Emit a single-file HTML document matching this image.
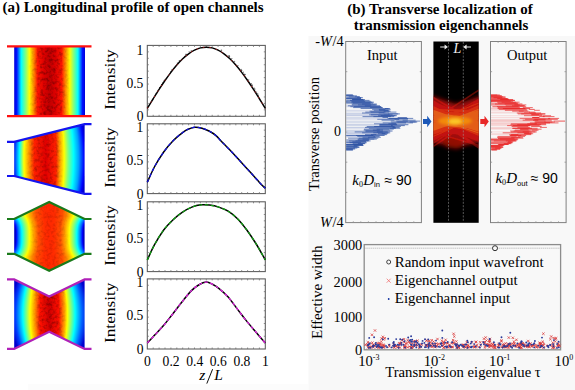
<!DOCTYPE html>
<html><head><meta charset="utf-8"><style>
html,body{margin:0;padding:0;background:#fff;width:575px;height:390px;overflow:hidden}
svg{display:block}
text{font-family:'Liberation Serif', serif}
</style></head><body>
<svg width="575" height="390" viewBox="0 0 575 390">
<defs>
<linearGradient id="jet1" x1="0" y1="0" x2="1" y2="0">
<stop offset="0" stop-color="#0000d8"/>
<stop offset="0.035" stop-color="#0010ff"/>
<stop offset="0.1" stop-color="#00ffff"/>
<stop offset="0.16" stop-color="#80ff80"/>
<stop offset="0.215" stop-color="#ffff00"/>
<stop offset="0.265" stop-color="#ffa000"/>
<stop offset="0.33" stop-color="#ff1400"/>
<stop offset="0.42" stop-color="#dc0000"/>
<stop offset="0.5" stop-color="#c00000"/>
<stop offset="0.58" stop-color="#dc0000"/>
<stop offset="0.67" stop-color="#ff1400"/>
<stop offset="0.735" stop-color="#ffa000"/>
<stop offset="0.785" stop-color="#ffff00"/>
<stop offset="0.84" stop-color="#80ff80"/>
<stop offset="0.9" stop-color="#00ffff"/>
<stop offset="0.965" stop-color="#0010ff"/>
<stop offset="1" stop-color="#0000d8"/>
</linearGradient>
<linearGradient id="jet2" x1="0" y1="0" x2="1" y2="0">
<stop offset="0" stop-color="#0000e0"/>
<stop offset="0.03" stop-color="#0050ff"/>
<stop offset="0.085" stop-color="#00ffff"/>
<stop offset="0.148" stop-color="#ffff00"/>
<stop offset="0.21" stop-color="#ffa000"/>
<stop offset="0.29" stop-color="#ff2000"/>
<stop offset="0.45" stop-color="#e00000"/>
<stop offset="0.59" stop-color="#ff2000"/>
<stop offset="0.643" stop-color="#ffa000"/>
<stop offset="0.70" stop-color="#ffff00"/>
<stop offset="0.755" stop-color="#80ff80"/>
<stop offset="0.83" stop-color="#00ffff"/>
<stop offset="0.90" stop-color="#00a0ff"/>
<stop offset="0.975" stop-color="#0000ff"/>
<stop offset="1" stop-color="#0000d0"/>
</linearGradient>
<linearGradient id="jet3" x1="0" y1="0" x2="1" y2="0">
<stop offset="0" stop-color="#0000c8"/>
<stop offset="0.01" stop-color="#0000ff"/>
<stop offset="0.042" stop-color="#0070ff"/>
<stop offset="0.093" stop-color="#00ffff"/>
<stop offset="0.146" stop-color="#80ff80"/>
<stop offset="0.205" stop-color="#ffff00"/>
<stop offset="0.269" stop-color="#ffa000"/>
<stop offset="0.337" stop-color="#ff5000"/>
<stop offset="0.435" stop-color="#ff2c00"/>
<stop offset="0.5" stop-color="#ff2800"/>
<stop offset="0.565" stop-color="#ff2c00"/>
<stop offset="0.663" stop-color="#ff5000"/>
<stop offset="0.731" stop-color="#ffa000"/>
<stop offset="0.795" stop-color="#ffff00"/>
<stop offset="0.854" stop-color="#80ff80"/>
<stop offset="0.907" stop-color="#00ffff"/>
<stop offset="0.958" stop-color="#0070ff"/>
<stop offset="0.99" stop-color="#0000ff"/>
<stop offset="1" stop-color="#0000c8"/>
</linearGradient>
<linearGradient id="jet4" x1="0" y1="0" x2="1" y2="0">
<stop offset="0" stop-color="#0000d0"/>
<stop offset="0.065" stop-color="#0040ff"/>
<stop offset="0.158" stop-color="#00ffff"/>
<stop offset="0.25" stop-color="#ffff00"/>
<stop offset="0.305" stop-color="#ffa000"/>
<stop offset="0.38" stop-color="#ff1000"/>
<stop offset="0.5" stop-color="#d00000"/>
<stop offset="0.62" stop-color="#ff1000"/>
<stop offset="0.695" stop-color="#ffa000"/>
<stop offset="0.73" stop-color="#ffff00"/>
<stop offset="0.83" stop-color="#00ffff"/>
<stop offset="0.92" stop-color="#0060ff"/>
<stop offset="1" stop-color="#0000d0"/>
</linearGradient>
<filter id="nz1" x="0" y="0" width="1" height="1"><feTurbulence type="fractalNoise" baseFrequency="0.32" numOctaves="2" seed="3"/><feColorMatrix type="matrix" values="0 0 0 0 0  0 0 0 0 0  0 0 0 0 0  0 0 0 -2.0 1.15"/><feComposite in2="SourceGraphic" operator="in"/></filter>
<filter id="nz2" x="0" y="0" width="1" height="1"><feTurbulence type="fractalNoise" baseFrequency="0.32" numOctaves="2" seed="5"/><feColorMatrix type="matrix" values="0 0 0 0 0  0 0 0 0 0  0 0 0 0 0  0 0 0 -2.0 1.15"/><feComposite in2="SourceGraphic" operator="in"/></filter>
<filter id="nz3" x="0" y="0" width="1" height="1"><feTurbulence type="fractalNoise" baseFrequency="0.32" numOctaves="2" seed="8"/><feColorMatrix type="matrix" values="0 0 0 0 0  0 0 0 0 0  0 0 0 0 0  0 0 0 -2.0 1.15"/><feComposite in2="SourceGraphic" operator="in"/></filter>
<filter id="nz4" x="0" y="0" width="1" height="1"><feTurbulence type="fractalNoise" baseFrequency="0.32" numOctaves="2" seed="11"/><feColorMatrix type="matrix" values="0 0 0 0 0  0 0 0 0 0  0 0 0 0 0  0 0 0 -2.0 1.15"/><feComposite in2="SourceGraphic" operator="in"/></filter>
<linearGradient id="mg1" x1="0" y1="0" x2="1" y2="0"><stop offset="0.2" stop-color="#fff" stop-opacity="0"/><stop offset="0.38" stop-color="#fff" stop-opacity="1"/><stop offset="0.62" stop-color="#fff" stop-opacity="1"/><stop offset="0.8" stop-color="#fff" stop-opacity="0"/></linearGradient>
<linearGradient id="mg2" x1="0" y1="0" x2="1" y2="0"><stop offset="0.15" stop-color="#fff" stop-opacity="0"/><stop offset="0.3" stop-color="#fff" stop-opacity="1"/><stop offset="0.58" stop-color="#fff" stop-opacity="1"/><stop offset="0.7" stop-color="#fff" stop-opacity="0"/></linearGradient>
<linearGradient id="mg3" x1="0" y1="0" x2="1" y2="0"><stop offset="0.2" stop-color="#fff" stop-opacity="0"/><stop offset="0.35" stop-color="#fff" stop-opacity="0.8"/><stop offset="0.65" stop-color="#fff" stop-opacity="0.8"/><stop offset="0.8" stop-color="#fff" stop-opacity="0"/></linearGradient>
<linearGradient id="mg4" x1="0" y1="0" x2="1" y2="0"><stop offset="0.25" stop-color="#fff" stop-opacity="0"/><stop offset="0.4" stop-color="#fff" stop-opacity="1"/><stop offset="0.6" stop-color="#fff" stop-opacity="1"/><stop offset="0.75" stop-color="#fff" stop-opacity="0"/></linearGradient>
<mask id="mk1"><rect x="14" y="40" width="71" height="80" fill="url(#mg1)"/></mask>
<mask id="mk2"><rect x="14" y="120" width="71" height="80" fill="url(#mg2)"/></mask>
<mask id="mk3"><rect x="14" y="200" width="71" height="75" fill="url(#mg3)"/></mask>
<mask id="mk4"><rect x="14" y="275" width="71" height="80" fill="url(#mg4)"/></mask>
</defs>
<rect width="575" height="390" fill="#fff"/>
<rect x="308.5" y="36" width="267" height="354" fill="#f8f8f8"/>
<rect x="28" y="384" width="280.5" height="6" fill="#fcfcfc"/>

<text x="2.6" y="11.7" font-size="15" font-weight="bold">(a) Longitudinal profile of open channels</text>
<path d="M14.2,46 H85 V116 H14.2 Z" fill="url(#jet1)"/>
<path d="M14.2,46 H85 V116 H14.2 Z" fill="#000" filter="url(#nz1)" opacity="0.4" mask="url(#mk1)"/>
<g stroke="#ff1010" stroke-width="2.2"><line x1="7" y1="46.4" x2="91.5" y2="46.4"/><line x1="7" y1="116.1" x2="91.5" y2="116.1"/></g>
<defs><linearGradient id="h2_0" href="#jet2" gradientUnits="userSpaceOnUse" x1="16.04" y1="0" x2="82.39" y2="0"/><linearGradient id="h2_1" href="#jet2" gradientUnits="userSpaceOnUse" x1="15.88" y1="0" x2="82.60" y2="0"/><linearGradient id="h2_2" href="#jet2" gradientUnits="userSpaceOnUse" x1="15.71" y1="0" x2="82.79" y2="0"/><linearGradient id="h2_3" href="#jet2" gradientUnits="userSpaceOnUse" x1="15.56" y1="0" x2="82.99" y2="0"/><linearGradient id="h2_4" href="#jet2" gradientUnits="userSpaceOnUse" x1="15.40" y1="0" x2="83.17" y2="0"/><linearGradient id="h2_5" href="#jet2" gradientUnits="userSpaceOnUse" x1="15.26" y1="0" x2="83.35" y2="0"/><linearGradient id="h2_6" href="#jet2" gradientUnits="userSpaceOnUse" x1="15.11" y1="0" x2="83.53" y2="0"/><linearGradient id="h2_7" href="#jet2" gradientUnits="userSpaceOnUse" x1="14.97" y1="0" x2="83.70" y2="0"/><linearGradient id="h2_8" href="#jet2" gradientUnits="userSpaceOnUse" x1="14.84" y1="0" x2="83.86" y2="0"/><linearGradient id="h2_9" href="#jet2" gradientUnits="userSpaceOnUse" x1="14.71" y1="0" x2="84.02" y2="0"/><linearGradient id="h2_10" href="#jet2" gradientUnits="userSpaceOnUse" x1="14.59" y1="0" x2="84.17" y2="0"/><linearGradient id="h2_11" href="#jet2" gradientUnits="userSpaceOnUse" x1="14.47" y1="0" x2="84.31" y2="0"/><linearGradient id="h2_12" href="#jet2" gradientUnits="userSpaceOnUse" x1="14.36" y1="0" x2="84.45" y2="0"/><linearGradient id="h2_13" href="#jet2" gradientUnits="userSpaceOnUse" x1="14.25" y1="0" x2="84.58" y2="0"/><linearGradient id="h2_14" href="#jet2" gradientUnits="userSpaceOnUse" x1="14.15" y1="0" x2="84.71" y2="0"/><linearGradient id="h2_15" href="#jet2" gradientUnits="userSpaceOnUse" x1="14.05" y1="0" x2="84.83" y2="0"/><linearGradient id="h2_16" href="#jet2" gradientUnits="userSpaceOnUse" x1="13.95" y1="0" x2="84.94" y2="0"/><linearGradient id="h2_17" href="#jet2" gradientUnits="userSpaceOnUse" x1="13.87" y1="0" x2="85.05" y2="0"/><linearGradient id="h2_18" href="#jet2" gradientUnits="userSpaceOnUse" x1="13.78" y1="0" x2="85.16" y2="0"/><linearGradient id="h2_19" href="#jet2" gradientUnits="userSpaceOnUse" x1="13.70" y1="0" x2="85.25" y2="0"/><linearGradient id="h2_20" href="#jet2" gradientUnits="userSpaceOnUse" x1="13.63" y1="0" x2="85.34" y2="0"/><linearGradient id="h2_21" href="#jet2" gradientUnits="userSpaceOnUse" x1="13.56" y1="0" x2="85.43" y2="0"/><linearGradient id="h2_22" href="#jet2" gradientUnits="userSpaceOnUse" x1="13.50" y1="0" x2="85.50" y2="0"/><linearGradient id="h2_23" href="#jet2" gradientUnits="userSpaceOnUse" x1="13.44" y1="0" x2="85.58" y2="0"/><linearGradient id="h2_24" href="#jet2" gradientUnits="userSpaceOnUse" x1="13.38" y1="0" x2="85.64" y2="0"/><linearGradient id="h2_25" href="#jet2" gradientUnits="userSpaceOnUse" x1="13.33" y1="0" x2="85.70" y2="0"/><linearGradient id="h2_26" href="#jet2" gradientUnits="userSpaceOnUse" x1="13.29" y1="0" x2="85.76" y2="0"/><linearGradient id="h2_27" href="#jet2" gradientUnits="userSpaceOnUse" x1="13.25" y1="0" x2="85.81" y2="0"/><linearGradient id="h2_28" href="#jet2" gradientUnits="userSpaceOnUse" x1="13.22" y1="0" x2="85.85" y2="0"/><linearGradient id="h2_29" href="#jet2" gradientUnits="userSpaceOnUse" x1="13.19" y1="0" x2="85.88" y2="0"/><linearGradient id="h2_30" href="#jet2" gradientUnits="userSpaceOnUse" x1="13.16" y1="0" x2="85.91" y2="0"/><linearGradient id="h2_31" href="#jet2" gradientUnits="userSpaceOnUse" x1="13.14" y1="0" x2="85.94" y2="0"/><linearGradient id="h2_32" href="#jet2" gradientUnits="userSpaceOnUse" x1="13.13" y1="0" x2="85.96" y2="0"/><linearGradient id="h2_33" href="#jet2" gradientUnits="userSpaceOnUse" x1="13.12" y1="0" x2="85.97" y2="0"/><linearGradient id="h2_34" href="#jet2" gradientUnits="userSpaceOnUse" x1="13.11" y1="0" x2="85.97" y2="0"/><linearGradient id="h2_35" href="#jet2" gradientUnits="userSpaceOnUse" x1="13.11" y1="0" x2="85.97" y2="0"/><linearGradient id="h2_36" href="#jet2" gradientUnits="userSpaceOnUse" x1="13.12" y1="0" x2="85.97" y2="0"/><linearGradient id="h2_37" href="#jet2" gradientUnits="userSpaceOnUse" x1="13.13" y1="0" x2="85.96" y2="0"/><linearGradient id="h2_38" href="#jet2" gradientUnits="userSpaceOnUse" x1="13.14" y1="0" x2="85.94" y2="0"/><linearGradient id="h2_39" href="#jet2" gradientUnits="userSpaceOnUse" x1="13.16" y1="0" x2="85.91" y2="0"/><linearGradient id="h2_40" href="#jet2" gradientUnits="userSpaceOnUse" x1="13.19" y1="0" x2="85.88" y2="0"/><linearGradient id="h2_41" href="#jet2" gradientUnits="userSpaceOnUse" x1="13.22" y1="0" x2="85.85" y2="0"/><linearGradient id="h2_42" href="#jet2" gradientUnits="userSpaceOnUse" x1="13.25" y1="0" x2="85.81" y2="0"/><linearGradient id="h2_43" href="#jet2" gradientUnits="userSpaceOnUse" x1="13.29" y1="0" x2="85.76" y2="0"/><linearGradient id="h2_44" href="#jet2" gradientUnits="userSpaceOnUse" x1="13.33" y1="0" x2="85.70" y2="0"/><linearGradient id="h2_45" href="#jet2" gradientUnits="userSpaceOnUse" x1="13.38" y1="0" x2="85.64" y2="0"/><linearGradient id="h2_46" href="#jet2" gradientUnits="userSpaceOnUse" x1="13.44" y1="0" x2="85.58" y2="0"/><linearGradient id="h2_47" href="#jet2" gradientUnits="userSpaceOnUse" x1="13.50" y1="0" x2="85.50" y2="0"/><linearGradient id="h2_48" href="#jet2" gradientUnits="userSpaceOnUse" x1="13.56" y1="0" x2="85.43" y2="0"/><linearGradient id="h2_49" href="#jet2" gradientUnits="userSpaceOnUse" x1="13.63" y1="0" x2="85.34" y2="0"/><linearGradient id="h2_50" href="#jet2" gradientUnits="userSpaceOnUse" x1="13.70" y1="0" x2="85.25" y2="0"/><linearGradient id="h2_51" href="#jet2" gradientUnits="userSpaceOnUse" x1="13.78" y1="0" x2="85.16" y2="0"/><linearGradient id="h2_52" href="#jet2" gradientUnits="userSpaceOnUse" x1="13.87" y1="0" x2="85.05" y2="0"/><linearGradient id="h2_53" href="#jet2" gradientUnits="userSpaceOnUse" x1="13.95" y1="0" x2="84.94" y2="0"/><linearGradient id="h2_54" href="#jet2" gradientUnits="userSpaceOnUse" x1="14.05" y1="0" x2="84.83" y2="0"/><linearGradient id="h2_55" href="#jet2" gradientUnits="userSpaceOnUse" x1="14.15" y1="0" x2="84.71" y2="0"/><linearGradient id="h2_56" href="#jet2" gradientUnits="userSpaceOnUse" x1="14.25" y1="0" x2="84.58" y2="0"/><linearGradient id="h2_57" href="#jet2" gradientUnits="userSpaceOnUse" x1="14.36" y1="0" x2="84.45" y2="0"/><linearGradient id="h2_58" href="#jet2" gradientUnits="userSpaceOnUse" x1="14.47" y1="0" x2="84.31" y2="0"/><linearGradient id="h2_59" href="#jet2" gradientUnits="userSpaceOnUse" x1="14.59" y1="0" x2="84.17" y2="0"/><linearGradient id="h2_60" href="#jet2" gradientUnits="userSpaceOnUse" x1="14.71" y1="0" x2="84.02" y2="0"/><linearGradient id="h2_61" href="#jet2" gradientUnits="userSpaceOnUse" x1="14.84" y1="0" x2="83.86" y2="0"/><linearGradient id="h2_62" href="#jet2" gradientUnits="userSpaceOnUse" x1="14.97" y1="0" x2="83.70" y2="0"/><linearGradient id="h2_63" href="#jet2" gradientUnits="userSpaceOnUse" x1="15.11" y1="0" x2="83.53" y2="0"/><linearGradient id="h2_64" href="#jet2" gradientUnits="userSpaceOnUse" x1="15.26" y1="0" x2="83.35" y2="0"/><linearGradient id="h2_65" href="#jet2" gradientUnits="userSpaceOnUse" x1="15.40" y1="0" x2="83.17" y2="0"/><linearGradient id="h2_66" href="#jet2" gradientUnits="userSpaceOnUse" x1="15.56" y1="0" x2="82.99" y2="0"/><linearGradient id="h2_67" href="#jet2" gradientUnits="userSpaceOnUse" x1="15.71" y1="0" x2="82.79" y2="0"/><linearGradient id="h2_68" href="#jet2" gradientUnits="userSpaceOnUse" x1="15.88" y1="0" x2="82.60" y2="0"/><linearGradient id="h2_69" href="#jet2" gradientUnits="userSpaceOnUse" x1="16.04" y1="0" x2="82.39" y2="0"/><linearGradient id="h2_70" href="#jet2" gradientUnits="userSpaceOnUse" x1="16.22" y1="0" x2="82.18" y2="0"/><clipPath id="cpt"><path d="M14.2,141.8 L84.6,124.2 L84.6,193.9 L14.2,176 Z"/></clipPath></defs>
<g clip-path="url(#cpt)"><rect x="14" y="124" width="71" height="1.05" fill="url(#h2_0)"/><rect x="14" y="125" width="71" height="1.05" fill="url(#h2_1)"/><rect x="14" y="126" width="71" height="1.05" fill="url(#h2_2)"/><rect x="14" y="127" width="71" height="1.05" fill="url(#h2_3)"/><rect x="14" y="128" width="71" height="1.05" fill="url(#h2_4)"/><rect x="14" y="129" width="71" height="1.05" fill="url(#h2_5)"/><rect x="14" y="130" width="71" height="1.05" fill="url(#h2_6)"/><rect x="14" y="131" width="71" height="1.05" fill="url(#h2_7)"/><rect x="14" y="132" width="71" height="1.05" fill="url(#h2_8)"/><rect x="14" y="133" width="71" height="1.05" fill="url(#h2_9)"/><rect x="14" y="134" width="71" height="1.05" fill="url(#h2_10)"/><rect x="14" y="135" width="71" height="1.05" fill="url(#h2_11)"/><rect x="14" y="136" width="71" height="1.05" fill="url(#h2_12)"/><rect x="14" y="137" width="71" height="1.05" fill="url(#h2_13)"/><rect x="14" y="138" width="71" height="1.05" fill="url(#h2_14)"/><rect x="14" y="139" width="71" height="1.05" fill="url(#h2_15)"/><rect x="14" y="140" width="71" height="1.05" fill="url(#h2_16)"/><rect x="14" y="141" width="71" height="1.05" fill="url(#h2_17)"/><rect x="14" y="142" width="71" height="1.05" fill="url(#h2_18)"/><rect x="14" y="143" width="71" height="1.05" fill="url(#h2_19)"/><rect x="14" y="144" width="71" height="1.05" fill="url(#h2_20)"/><rect x="14" y="145" width="71" height="1.05" fill="url(#h2_21)"/><rect x="14" y="146" width="71" height="1.05" fill="url(#h2_22)"/><rect x="14" y="147" width="71" height="1.05" fill="url(#h2_23)"/><rect x="14" y="148" width="71" height="1.05" fill="url(#h2_24)"/><rect x="14" y="149" width="71" height="1.05" fill="url(#h2_25)"/><rect x="14" y="150" width="71" height="1.05" fill="url(#h2_26)"/><rect x="14" y="151" width="71" height="1.05" fill="url(#h2_27)"/><rect x="14" y="152" width="71" height="1.05" fill="url(#h2_28)"/><rect x="14" y="153" width="71" height="1.05" fill="url(#h2_29)"/><rect x="14" y="154" width="71" height="1.05" fill="url(#h2_30)"/><rect x="14" y="155" width="71" height="1.05" fill="url(#h2_31)"/><rect x="14" y="156" width="71" height="1.05" fill="url(#h2_32)"/><rect x="14" y="157" width="71" height="1.05" fill="url(#h2_33)"/><rect x="14" y="158" width="71" height="1.05" fill="url(#h2_34)"/><rect x="14" y="159" width="71" height="1.05" fill="url(#h2_35)"/><rect x="14" y="160" width="71" height="1.05" fill="url(#h2_36)"/><rect x="14" y="161" width="71" height="1.05" fill="url(#h2_37)"/><rect x="14" y="162" width="71" height="1.05" fill="url(#h2_38)"/><rect x="14" y="163" width="71" height="1.05" fill="url(#h2_39)"/><rect x="14" y="164" width="71" height="1.05" fill="url(#h2_40)"/><rect x="14" y="165" width="71" height="1.05" fill="url(#h2_41)"/><rect x="14" y="166" width="71" height="1.05" fill="url(#h2_42)"/><rect x="14" y="167" width="71" height="1.05" fill="url(#h2_43)"/><rect x="14" y="168" width="71" height="1.05" fill="url(#h2_44)"/><rect x="14" y="169" width="71" height="1.05" fill="url(#h2_45)"/><rect x="14" y="170" width="71" height="1.05" fill="url(#h2_46)"/><rect x="14" y="171" width="71" height="1.05" fill="url(#h2_47)"/><rect x="14" y="172" width="71" height="1.05" fill="url(#h2_48)"/><rect x="14" y="173" width="71" height="1.05" fill="url(#h2_49)"/><rect x="14" y="174" width="71" height="1.05" fill="url(#h2_50)"/><rect x="14" y="175" width="71" height="1.05" fill="url(#h2_51)"/><rect x="14" y="176" width="71" height="1.05" fill="url(#h2_52)"/><rect x="14" y="177" width="71" height="1.05" fill="url(#h2_53)"/><rect x="14" y="178" width="71" height="1.05" fill="url(#h2_54)"/><rect x="14" y="179" width="71" height="1.05" fill="url(#h2_55)"/><rect x="14" y="180" width="71" height="1.05" fill="url(#h2_56)"/><rect x="14" y="181" width="71" height="1.05" fill="url(#h2_57)"/><rect x="14" y="182" width="71" height="1.05" fill="url(#h2_58)"/><rect x="14" y="183" width="71" height="1.05" fill="url(#h2_59)"/><rect x="14" y="184" width="71" height="1.05" fill="url(#h2_60)"/><rect x="14" y="185" width="71" height="1.05" fill="url(#h2_61)"/><rect x="14" y="186" width="71" height="1.05" fill="url(#h2_62)"/><rect x="14" y="187" width="71" height="1.05" fill="url(#h2_63)"/><rect x="14" y="188" width="71" height="1.05" fill="url(#h2_64)"/><rect x="14" y="189" width="71" height="1.05" fill="url(#h2_65)"/><rect x="14" y="190" width="71" height="1.05" fill="url(#h2_66)"/><rect x="14" y="191" width="71" height="1.05" fill="url(#h2_67)"/><rect x="14" y="192" width="71" height="1.05" fill="url(#h2_68)"/><rect x="14" y="193" width="71" height="1.05" fill="url(#h2_69)"/><rect x="14" y="194" width="71" height="1.05" fill="url(#h2_70)"/></g>
<path d="M14.2,141.8 L84.6,124.2 L84.6,193.9 L14.2,176 Z" fill="#000" filter="url(#nz2)" opacity="0.3" mask="url(#mk2)"/>
<path d="M7,141.8 H14.2 L84.6,124.2 H91.5 M7,176 H14.2 L84.6,193.9 H91.5" fill="none" stroke="#1414f0" stroke-width="2.2"/>
<defs><linearGradient id="h3_0" href="#jet3" gradientUnits="userSpaceOnUse" x1="8.45" y1="0" x2="90.35" y2="0"/><linearGradient id="h3_1" href="#jet3" gradientUnits="userSpaceOnUse" x1="8.45" y1="0" x2="90.35" y2="0"/><linearGradient id="h3_2" href="#jet3" gradientUnits="userSpaceOnUse" x1="8.45" y1="0" x2="90.35" y2="0"/><linearGradient id="h3_3" href="#jet3" gradientUnits="userSpaceOnUse" x1="8.45" y1="0" x2="90.35" y2="0"/><linearGradient id="h3_4" href="#jet3" gradientUnits="userSpaceOnUse" x1="8.45" y1="0" x2="90.35" y2="0"/><linearGradient id="h3_5" href="#jet3" gradientUnits="userSpaceOnUse" x1="8.45" y1="0" x2="90.35" y2="0"/><linearGradient id="h3_6" href="#jet3" gradientUnits="userSpaceOnUse" x1="8.45" y1="0" x2="90.35" y2="0"/><linearGradient id="h3_7" href="#jet3" gradientUnits="userSpaceOnUse" x1="8.45" y1="0" x2="90.35" y2="0"/><linearGradient id="h3_8" href="#jet3" gradientUnits="userSpaceOnUse" x1="8.45" y1="0" x2="90.35" y2="0"/><linearGradient id="h3_9" href="#jet3" gradientUnits="userSpaceOnUse" x1="8.45" y1="0" x2="90.35" y2="0"/><linearGradient id="h3_10" href="#jet3" gradientUnits="userSpaceOnUse" x1="8.45" y1="0" x2="90.35" y2="0"/><linearGradient id="h3_11" href="#jet3" gradientUnits="userSpaceOnUse" x1="8.45" y1="0" x2="90.35" y2="0"/><linearGradient id="h3_12" href="#jet3" gradientUnits="userSpaceOnUse" x1="8.45" y1="0" x2="90.35" y2="0"/><linearGradient id="h3_13" href="#jet3" gradientUnits="userSpaceOnUse" x1="8.45" y1="0" x2="90.35" y2="0"/><linearGradient id="h3_14" href="#jet3" gradientUnits="userSpaceOnUse" x1="8.45" y1="0" x2="90.35" y2="0"/><linearGradient id="h3_15" href="#jet3" gradientUnits="userSpaceOnUse" x1="8.74" y1="0" x2="90.06" y2="0"/><linearGradient id="h3_16" href="#jet3" gradientUnits="userSpaceOnUse" x1="9.79" y1="0" x2="89.01" y2="0"/><linearGradient id="h3_17" href="#jet3" gradientUnits="userSpaceOnUse" x1="10.72" y1="0" x2="88.08" y2="0"/><linearGradient id="h3_18" href="#jet3" gradientUnits="userSpaceOnUse" x1="11.55" y1="0" x2="87.25" y2="0"/><linearGradient id="h3_19" href="#jet3" gradientUnits="userSpaceOnUse" x1="12.28" y1="0" x2="86.52" y2="0"/><linearGradient id="h3_20" href="#jet3" gradientUnits="userSpaceOnUse" x1="12.91" y1="0" x2="85.89" y2="0"/><linearGradient id="h3_21" href="#jet3" gradientUnits="userSpaceOnUse" x1="13.46" y1="0" x2="85.34" y2="0"/><linearGradient id="h3_22" href="#jet3" gradientUnits="userSpaceOnUse" x1="13.92" y1="0" x2="84.88" y2="0"/><linearGradient id="h3_23" href="#jet3" gradientUnits="userSpaceOnUse" x1="14.32" y1="0" x2="84.48" y2="0"/><linearGradient id="h3_24" href="#jet3" gradientUnits="userSpaceOnUse" x1="14.64" y1="0" x2="84.16" y2="0"/><linearGradient id="h3_25" href="#jet3" gradientUnits="userSpaceOnUse" x1="14.91" y1="0" x2="83.89" y2="0"/><linearGradient id="h3_26" href="#jet3" gradientUnits="userSpaceOnUse" x1="15.12" y1="0" x2="83.68" y2="0"/><linearGradient id="h3_27" href="#jet3" gradientUnits="userSpaceOnUse" x1="15.29" y1="0" x2="83.51" y2="0"/><linearGradient id="h3_28" href="#jet3" gradientUnits="userSpaceOnUse" x1="15.42" y1="0" x2="83.38" y2="0"/><linearGradient id="h3_29" href="#jet3" gradientUnits="userSpaceOnUse" x1="15.51" y1="0" x2="83.29" y2="0"/><linearGradient id="h3_30" href="#jet3" gradientUnits="userSpaceOnUse" x1="15.57" y1="0" x2="83.23" y2="0"/><linearGradient id="h3_31" href="#jet3" gradientUnits="userSpaceOnUse" x1="15.61" y1="0" x2="83.19" y2="0"/><linearGradient id="h3_32" href="#jet3" gradientUnits="userSpaceOnUse" x1="15.64" y1="0" x2="83.16" y2="0"/><linearGradient id="h3_33" href="#jet3" gradientUnits="userSpaceOnUse" x1="15.65" y1="0" x2="83.15" y2="0"/><linearGradient id="h3_34" href="#jet3" gradientUnits="userSpaceOnUse" x1="15.65" y1="0" x2="83.15" y2="0"/><linearGradient id="h3_35" href="#jet3" gradientUnits="userSpaceOnUse" x1="15.65" y1="0" x2="83.15" y2="0"/><linearGradient id="h3_36" href="#jet3" gradientUnits="userSpaceOnUse" x1="15.65" y1="0" x2="83.15" y2="0"/><linearGradient id="h3_37" href="#jet3" gradientUnits="userSpaceOnUse" x1="15.64" y1="0" x2="83.16" y2="0"/><linearGradient id="h3_38" href="#jet3" gradientUnits="userSpaceOnUse" x1="15.63" y1="0" x2="83.17" y2="0"/><linearGradient id="h3_39" href="#jet3" gradientUnits="userSpaceOnUse" x1="15.61" y1="0" x2="83.19" y2="0"/><linearGradient id="h3_40" href="#jet3" gradientUnits="userSpaceOnUse" x1="15.56" y1="0" x2="83.24" y2="0"/><linearGradient id="h3_41" href="#jet3" gradientUnits="userSpaceOnUse" x1="15.49" y1="0" x2="83.31" y2="0"/><linearGradient id="h3_42" href="#jet3" gradientUnits="userSpaceOnUse" x1="15.39" y1="0" x2="83.41" y2="0"/><linearGradient id="h3_43" href="#jet3" gradientUnits="userSpaceOnUse" x1="15.26" y1="0" x2="83.54" y2="0"/><linearGradient id="h3_44" href="#jet3" gradientUnits="userSpaceOnUse" x1="15.08" y1="0" x2="83.72" y2="0"/><linearGradient id="h3_45" href="#jet3" gradientUnits="userSpaceOnUse" x1="14.86" y1="0" x2="83.94" y2="0"/><linearGradient id="h3_46" href="#jet3" gradientUnits="userSpaceOnUse" x1="14.58" y1="0" x2="84.22" y2="0"/><linearGradient id="h3_47" href="#jet3" gradientUnits="userSpaceOnUse" x1="14.24" y1="0" x2="84.56" y2="0"/><linearGradient id="h3_48" href="#jet3" gradientUnits="userSpaceOnUse" x1="13.84" y1="0" x2="84.96" y2="0"/><linearGradient id="h3_49" href="#jet3" gradientUnits="userSpaceOnUse" x1="13.35" y1="0" x2="85.45" y2="0"/><linearGradient id="h3_50" href="#jet3" gradientUnits="userSpaceOnUse" x1="12.79" y1="0" x2="86.01" y2="0"/><linearGradient id="h3_51" href="#jet3" gradientUnits="userSpaceOnUse" x1="12.14" y1="0" x2="86.66" y2="0"/><linearGradient id="h3_52" href="#jet3" gradientUnits="userSpaceOnUse" x1="11.39" y1="0" x2="87.41" y2="0"/><linearGradient id="h3_53" href="#jet3" gradientUnits="userSpaceOnUse" x1="10.54" y1="0" x2="88.26" y2="0"/><linearGradient id="h3_54" href="#jet3" gradientUnits="userSpaceOnUse" x1="9.59" y1="0" x2="89.21" y2="0"/><linearGradient id="h3_55" href="#jet3" gradientUnits="userSpaceOnUse" x1="8.51" y1="0" x2="90.29" y2="0"/><linearGradient id="h3_56" href="#jet3" gradientUnits="userSpaceOnUse" x1="8.45" y1="0" x2="90.35" y2="0"/><linearGradient id="h3_57" href="#jet3" gradientUnits="userSpaceOnUse" x1="8.45" y1="0" x2="90.35" y2="0"/><linearGradient id="h3_58" href="#jet3" gradientUnits="userSpaceOnUse" x1="8.45" y1="0" x2="90.35" y2="0"/><linearGradient id="h3_59" href="#jet3" gradientUnits="userSpaceOnUse" x1="8.45" y1="0" x2="90.35" y2="0"/><linearGradient id="h3_60" href="#jet3" gradientUnits="userSpaceOnUse" x1="8.45" y1="0" x2="90.35" y2="0"/><linearGradient id="h3_61" href="#jet3" gradientUnits="userSpaceOnUse" x1="8.45" y1="0" x2="90.35" y2="0"/><linearGradient id="h3_62" href="#jet3" gradientUnits="userSpaceOnUse" x1="8.45" y1="0" x2="90.35" y2="0"/><linearGradient id="h3_63" href="#jet3" gradientUnits="userSpaceOnUse" x1="8.45" y1="0" x2="90.35" y2="0"/><linearGradient id="h3_64" href="#jet3" gradientUnits="userSpaceOnUse" x1="8.45" y1="0" x2="90.35" y2="0"/><linearGradient id="h3_65" href="#jet3" gradientUnits="userSpaceOnUse" x1="8.45" y1="0" x2="90.35" y2="0"/><linearGradient id="h3_66" href="#jet3" gradientUnits="userSpaceOnUse" x1="8.45" y1="0" x2="90.35" y2="0"/><linearGradient id="h3_67" href="#jet3" gradientUnits="userSpaceOnUse" x1="8.45" y1="0" x2="90.35" y2="0"/><linearGradient id="h3_68" href="#jet3" gradientUnits="userSpaceOnUse" x1="8.45" y1="0" x2="90.35" y2="0"/><linearGradient id="h3_69" href="#jet3" gradientUnits="userSpaceOnUse" x1="8.45" y1="0" x2="90.35" y2="0"/><linearGradient id="h3_70" href="#jet3" gradientUnits="userSpaceOnUse" x1="8.45" y1="0" x2="90.35" y2="0"/><clipPath id="cph"><path d="M14.2,219 L49.2,202 L84.6,219 L84.6,253.8 L49.2,270.8 L14.2,253.8 Z"/></clipPath></defs>
<g clip-path="url(#cph)"><rect x="14" y="201" width="71" height="1.05" fill="url(#h3_0)"/><rect x="14" y="202" width="71" height="1.05" fill="url(#h3_1)"/><rect x="14" y="203" width="71" height="1.05" fill="url(#h3_2)"/><rect x="14" y="204" width="71" height="1.05" fill="url(#h3_3)"/><rect x="14" y="205" width="71" height="1.05" fill="url(#h3_4)"/><rect x="14" y="206" width="71" height="1.05" fill="url(#h3_5)"/><rect x="14" y="207" width="71" height="1.05" fill="url(#h3_6)"/><rect x="14" y="208" width="71" height="1.05" fill="url(#h3_7)"/><rect x="14" y="209" width="71" height="1.05" fill="url(#h3_8)"/><rect x="14" y="210" width="71" height="1.05" fill="url(#h3_9)"/><rect x="14" y="211" width="71" height="1.05" fill="url(#h3_10)"/><rect x="14" y="212" width="71" height="1.05" fill="url(#h3_11)"/><rect x="14" y="213" width="71" height="1.05" fill="url(#h3_12)"/><rect x="14" y="214" width="71" height="1.05" fill="url(#h3_13)"/><rect x="14" y="215" width="71" height="1.05" fill="url(#h3_14)"/><rect x="14" y="216" width="71" height="1.05" fill="url(#h3_15)"/><rect x="14" y="217" width="71" height="1.05" fill="url(#h3_16)"/><rect x="14" y="218" width="71" height="1.05" fill="url(#h3_17)"/><rect x="14" y="219" width="71" height="1.05" fill="url(#h3_18)"/><rect x="14" y="220" width="71" height="1.05" fill="url(#h3_19)"/><rect x="14" y="221" width="71" height="1.05" fill="url(#h3_20)"/><rect x="14" y="222" width="71" height="1.05" fill="url(#h3_21)"/><rect x="14" y="223" width="71" height="1.05" fill="url(#h3_22)"/><rect x="14" y="224" width="71" height="1.05" fill="url(#h3_23)"/><rect x="14" y="225" width="71" height="1.05" fill="url(#h3_24)"/><rect x="14" y="226" width="71" height="1.05" fill="url(#h3_25)"/><rect x="14" y="227" width="71" height="1.05" fill="url(#h3_26)"/><rect x="14" y="228" width="71" height="1.05" fill="url(#h3_27)"/><rect x="14" y="229" width="71" height="1.05" fill="url(#h3_28)"/><rect x="14" y="230" width="71" height="1.05" fill="url(#h3_29)"/><rect x="14" y="231" width="71" height="1.05" fill="url(#h3_30)"/><rect x="14" y="232" width="71" height="1.05" fill="url(#h3_31)"/><rect x="14" y="233" width="71" height="1.05" fill="url(#h3_32)"/><rect x="14" y="234" width="71" height="1.05" fill="url(#h3_33)"/><rect x="14" y="235" width="71" height="1.05" fill="url(#h3_34)"/><rect x="14" y="236" width="71" height="1.05" fill="url(#h3_35)"/><rect x="14" y="237" width="71" height="1.05" fill="url(#h3_36)"/><rect x="14" y="238" width="71" height="1.05" fill="url(#h3_37)"/><rect x="14" y="239" width="71" height="1.05" fill="url(#h3_38)"/><rect x="14" y="240" width="71" height="1.05" fill="url(#h3_39)"/><rect x="14" y="241" width="71" height="1.05" fill="url(#h3_40)"/><rect x="14" y="242" width="71" height="1.05" fill="url(#h3_41)"/><rect x="14" y="243" width="71" height="1.05" fill="url(#h3_42)"/><rect x="14" y="244" width="71" height="1.05" fill="url(#h3_43)"/><rect x="14" y="245" width="71" height="1.05" fill="url(#h3_44)"/><rect x="14" y="246" width="71" height="1.05" fill="url(#h3_45)"/><rect x="14" y="247" width="71" height="1.05" fill="url(#h3_46)"/><rect x="14" y="248" width="71" height="1.05" fill="url(#h3_47)"/><rect x="14" y="249" width="71" height="1.05" fill="url(#h3_48)"/><rect x="14" y="250" width="71" height="1.05" fill="url(#h3_49)"/><rect x="14" y="251" width="71" height="1.05" fill="url(#h3_50)"/><rect x="14" y="252" width="71" height="1.05" fill="url(#h3_51)"/><rect x="14" y="253" width="71" height="1.05" fill="url(#h3_52)"/><rect x="14" y="254" width="71" height="1.05" fill="url(#h3_53)"/><rect x="14" y="255" width="71" height="1.05" fill="url(#h3_54)"/><rect x="14" y="256" width="71" height="1.05" fill="url(#h3_55)"/><rect x="14" y="257" width="71" height="1.05" fill="url(#h3_56)"/><rect x="14" y="258" width="71" height="1.05" fill="url(#h3_57)"/><rect x="14" y="259" width="71" height="1.05" fill="url(#h3_58)"/><rect x="14" y="260" width="71" height="1.05" fill="url(#h3_59)"/><rect x="14" y="261" width="71" height="1.05" fill="url(#h3_60)"/><rect x="14" y="262" width="71" height="1.05" fill="url(#h3_61)"/><rect x="14" y="263" width="71" height="1.05" fill="url(#h3_62)"/><rect x="14" y="264" width="71" height="1.05" fill="url(#h3_63)"/><rect x="14" y="265" width="71" height="1.05" fill="url(#h3_64)"/><rect x="14" y="266" width="71" height="1.05" fill="url(#h3_65)"/><rect x="14" y="267" width="71" height="1.05" fill="url(#h3_66)"/><rect x="14" y="268" width="71" height="1.05" fill="url(#h3_67)"/><rect x="14" y="269" width="71" height="1.05" fill="url(#h3_68)"/><rect x="14" y="270" width="71" height="1.05" fill="url(#h3_69)"/><rect x="14" y="271" width="71" height="1.05" fill="url(#h3_70)"/></g>
<path d="M14.2,219 L49.2,202 L84.6,219 L84.6,253.8 L49.2,270.8 L14.2,253.8 Z" fill="#000" filter="url(#nz3)" opacity="0.22" mask="url(#mk3)"/>
<path d="M7,219 H14.2 L49.2,202 L84.6,219 H91.5 M7,253.8 H14.2 L49.2,270.8 L84.6,253.8 H91.5" fill="none" stroke="#1a7a1a" stroke-width="2.2"/>
<defs><linearGradient id="h4_0" href="#jet4" gradientUnits="userSpaceOnUse" x1="18.07" y1="0" x2="80.73" y2="0"/><linearGradient id="h4_1" href="#jet4" gradientUnits="userSpaceOnUse" x1="17.63" y1="0" x2="81.17" y2="0"/><linearGradient id="h4_2" href="#jet4" gradientUnits="userSpaceOnUse" x1="17.21" y1="0" x2="81.59" y2="0"/><linearGradient id="h4_3" href="#jet4" gradientUnits="userSpaceOnUse" x1="16.80" y1="0" x2="82.00" y2="0"/><linearGradient id="h4_4" href="#jet4" gradientUnits="userSpaceOnUse" x1="16.40" y1="0" x2="82.40" y2="0"/><linearGradient id="h4_5" href="#jet4" gradientUnits="userSpaceOnUse" x1="16.02" y1="0" x2="82.78" y2="0"/><linearGradient id="h4_6" href="#jet4" gradientUnits="userSpaceOnUse" x1="15.64" y1="0" x2="83.16" y2="0"/><linearGradient id="h4_7" href="#jet4" gradientUnits="userSpaceOnUse" x1="15.28" y1="0" x2="83.52" y2="0"/><linearGradient id="h4_8" href="#jet4" gradientUnits="userSpaceOnUse" x1="14.94" y1="0" x2="83.86" y2="0"/><linearGradient id="h4_9" href="#jet4" gradientUnits="userSpaceOnUse" x1="14.60" y1="0" x2="84.20" y2="0"/><linearGradient id="h4_10" href="#jet4" gradientUnits="userSpaceOnUse" x1="14.28" y1="0" x2="84.52" y2="0"/><linearGradient id="h4_11" href="#jet4" gradientUnits="userSpaceOnUse" x1="13.97" y1="0" x2="84.83" y2="0"/><linearGradient id="h4_12" href="#jet4" gradientUnits="userSpaceOnUse" x1="13.68" y1="0" x2="85.12" y2="0"/><linearGradient id="h4_13" href="#jet4" gradientUnits="userSpaceOnUse" x1="13.39" y1="0" x2="85.41" y2="0"/><linearGradient id="h4_14" href="#jet4" gradientUnits="userSpaceOnUse" x1="13.12" y1="0" x2="85.68" y2="0"/><linearGradient id="h4_15" href="#jet4" gradientUnits="userSpaceOnUse" x1="12.87" y1="0" x2="85.93" y2="0"/><linearGradient id="h4_16" href="#jet4" gradientUnits="userSpaceOnUse" x1="12.62" y1="0" x2="86.18" y2="0"/><linearGradient id="h4_17" href="#jet4" gradientUnits="userSpaceOnUse" x1="12.39" y1="0" x2="86.41" y2="0"/><linearGradient id="h4_18" href="#jet4" gradientUnits="userSpaceOnUse" x1="12.17" y1="0" x2="86.63" y2="0"/><linearGradient id="h4_19" href="#jet4" gradientUnits="userSpaceOnUse" x1="11.96" y1="0" x2="86.84" y2="0"/><linearGradient id="h4_20" href="#jet4" gradientUnits="userSpaceOnUse" x1="11.77" y1="0" x2="87.03" y2="0"/><linearGradient id="h4_21" href="#jet4" gradientUnits="userSpaceOnUse" x1="11.59" y1="0" x2="87.21" y2="0"/><linearGradient id="h4_22" href="#jet4" gradientUnits="userSpaceOnUse" x1="11.42" y1="0" x2="87.38" y2="0"/><linearGradient id="h4_23" href="#jet4" gradientUnits="userSpaceOnUse" x1="11.27" y1="0" x2="87.53" y2="0"/><linearGradient id="h4_24" href="#jet4" gradientUnits="userSpaceOnUse" x1="11.12" y1="0" x2="87.68" y2="0"/><linearGradient id="h4_25" href="#jet4" gradientUnits="userSpaceOnUse" x1="10.99" y1="0" x2="87.81" y2="0"/><linearGradient id="h4_26" href="#jet4" gradientUnits="userSpaceOnUse" x1="10.88" y1="0" x2="87.92" y2="0"/><linearGradient id="h4_27" href="#jet4" gradientUnits="userSpaceOnUse" x1="10.77" y1="0" x2="88.03" y2="0"/><linearGradient id="h4_28" href="#jet4" gradientUnits="userSpaceOnUse" x1="10.68" y1="0" x2="88.12" y2="0"/><linearGradient id="h4_29" href="#jet4" gradientUnits="userSpaceOnUse" x1="10.60" y1="0" x2="88.20" y2="0"/><linearGradient id="h4_30" href="#jet4" gradientUnits="userSpaceOnUse" x1="10.54" y1="0" x2="88.26" y2="0"/><linearGradient id="h4_31" href="#jet4" gradientUnits="userSpaceOnUse" x1="10.49" y1="0" x2="88.31" y2="0"/><linearGradient id="h4_32" href="#jet4" gradientUnits="userSpaceOnUse" x1="10.44" y1="0" x2="88.36" y2="0"/><linearGradient id="h4_33" href="#jet4" gradientUnits="userSpaceOnUse" x1="10.42" y1="0" x2="88.38" y2="0"/><linearGradient id="h4_34" href="#jet4" gradientUnits="userSpaceOnUse" x1="10.40" y1="0" x2="88.40" y2="0"/><linearGradient id="h4_35" href="#jet4" gradientUnits="userSpaceOnUse" x1="10.40" y1="0" x2="88.40" y2="0"/><linearGradient id="h4_36" href="#jet4" gradientUnits="userSpaceOnUse" x1="10.41" y1="0" x2="88.39" y2="0"/><linearGradient id="h4_37" href="#jet4" gradientUnits="userSpaceOnUse" x1="10.44" y1="0" x2="88.36" y2="0"/><linearGradient id="h4_38" href="#jet4" gradientUnits="userSpaceOnUse" x1="10.47" y1="0" x2="88.33" y2="0"/><linearGradient id="h4_39" href="#jet4" gradientUnits="userSpaceOnUse" x1="10.52" y1="0" x2="88.28" y2="0"/><linearGradient id="h4_40" href="#jet4" gradientUnits="userSpaceOnUse" x1="10.58" y1="0" x2="88.22" y2="0"/><linearGradient id="h4_41" href="#jet4" gradientUnits="userSpaceOnUse" x1="10.66" y1="0" x2="88.14" y2="0"/><linearGradient id="h4_42" href="#jet4" gradientUnits="userSpaceOnUse" x1="10.75" y1="0" x2="88.05" y2="0"/><linearGradient id="h4_43" href="#jet4" gradientUnits="userSpaceOnUse" x1="10.85" y1="0" x2="87.95" y2="0"/><linearGradient id="h4_44" href="#jet4" gradientUnits="userSpaceOnUse" x1="10.96" y1="0" x2="87.84" y2="0"/><linearGradient id="h4_45" href="#jet4" gradientUnits="userSpaceOnUse" x1="11.08" y1="0" x2="87.72" y2="0"/><linearGradient id="h4_46" href="#jet4" gradientUnits="userSpaceOnUse" x1="11.22" y1="0" x2="87.58" y2="0"/><linearGradient id="h4_47" href="#jet4" gradientUnits="userSpaceOnUse" x1="11.37" y1="0" x2="87.43" y2="0"/><linearGradient id="h4_48" href="#jet4" gradientUnits="userSpaceOnUse" x1="11.54" y1="0" x2="87.26" y2="0"/><linearGradient id="h4_49" href="#jet4" gradientUnits="userSpaceOnUse" x1="11.72" y1="0" x2="87.08" y2="0"/><linearGradient id="h4_50" href="#jet4" gradientUnits="userSpaceOnUse" x1="11.91" y1="0" x2="86.89" y2="0"/><linearGradient id="h4_51" href="#jet4" gradientUnits="userSpaceOnUse" x1="12.11" y1="0" x2="86.69" y2="0"/><linearGradient id="h4_52" href="#jet4" gradientUnits="userSpaceOnUse" x1="12.32" y1="0" x2="86.48" y2="0"/><linearGradient id="h4_53" href="#jet4" gradientUnits="userSpaceOnUse" x1="12.55" y1="0" x2="86.25" y2="0"/><linearGradient id="h4_54" href="#jet4" gradientUnits="userSpaceOnUse" x1="12.79" y1="0" x2="86.01" y2="0"/><linearGradient id="h4_55" href="#jet4" gradientUnits="userSpaceOnUse" x1="13.05" y1="0" x2="85.75" y2="0"/><linearGradient id="h4_56" href="#jet4" gradientUnits="userSpaceOnUse" x1="13.31" y1="0" x2="85.49" y2="0"/><linearGradient id="h4_57" href="#jet4" gradientUnits="userSpaceOnUse" x1="13.59" y1="0" x2="85.21" y2="0"/><linearGradient id="h4_58" href="#jet4" gradientUnits="userSpaceOnUse" x1="13.88" y1="0" x2="84.92" y2="0"/><linearGradient id="h4_59" href="#jet4" gradientUnits="userSpaceOnUse" x1="14.19" y1="0" x2="84.61" y2="0"/><linearGradient id="h4_60" href="#jet4" gradientUnits="userSpaceOnUse" x1="14.51" y1="0" x2="84.29" y2="0"/><linearGradient id="h4_61" href="#jet4" gradientUnits="userSpaceOnUse" x1="14.84" y1="0" x2="83.96" y2="0"/><linearGradient id="h4_62" href="#jet4" gradientUnits="userSpaceOnUse" x1="15.18" y1="0" x2="83.62" y2="0"/><linearGradient id="h4_63" href="#jet4" gradientUnits="userSpaceOnUse" x1="15.53" y1="0" x2="83.27" y2="0"/><linearGradient id="h4_64" href="#jet4" gradientUnits="userSpaceOnUse" x1="15.90" y1="0" x2="82.90" y2="0"/><linearGradient id="h4_65" href="#jet4" gradientUnits="userSpaceOnUse" x1="16.28" y1="0" x2="82.52" y2="0"/><linearGradient id="h4_66" href="#jet4" gradientUnits="userSpaceOnUse" x1="16.68" y1="0" x2="82.12" y2="0"/><linearGradient id="h4_67" href="#jet4" gradientUnits="userSpaceOnUse" x1="17.09" y1="0" x2="81.71" y2="0"/><linearGradient id="h4_68" href="#jet4" gradientUnits="userSpaceOnUse" x1="17.51" y1="0" x2="81.29" y2="0"/><linearGradient id="h4_69" href="#jet4" gradientUnits="userSpaceOnUse" x1="17.94" y1="0" x2="80.86" y2="0"/><linearGradient id="h4_70" href="#jet4" gradientUnits="userSpaceOnUse" x1="18.38" y1="0" x2="80.42" y2="0"/><clipPath id="cpw"><path d="M14.2,279.4 L49.2,296.6 L84.6,279.4 L84.6,348.9 L49.2,331.7 L14.2,348.9 Z"/></clipPath></defs>
<g clip-path="url(#cpw)"><rect x="14" y="279" width="71" height="1.05" fill="url(#h4_0)"/><rect x="14" y="280" width="71" height="1.05" fill="url(#h4_1)"/><rect x="14" y="281" width="71" height="1.05" fill="url(#h4_2)"/><rect x="14" y="282" width="71" height="1.05" fill="url(#h4_3)"/><rect x="14" y="283" width="71" height="1.05" fill="url(#h4_4)"/><rect x="14" y="284" width="71" height="1.05" fill="url(#h4_5)"/><rect x="14" y="285" width="71" height="1.05" fill="url(#h4_6)"/><rect x="14" y="286" width="71" height="1.05" fill="url(#h4_7)"/><rect x="14" y="287" width="71" height="1.05" fill="url(#h4_8)"/><rect x="14" y="288" width="71" height="1.05" fill="url(#h4_9)"/><rect x="14" y="289" width="71" height="1.05" fill="url(#h4_10)"/><rect x="14" y="290" width="71" height="1.05" fill="url(#h4_11)"/><rect x="14" y="291" width="71" height="1.05" fill="url(#h4_12)"/><rect x="14" y="292" width="71" height="1.05" fill="url(#h4_13)"/><rect x="14" y="293" width="71" height="1.05" fill="url(#h4_14)"/><rect x="14" y="294" width="71" height="1.05" fill="url(#h4_15)"/><rect x="14" y="295" width="71" height="1.05" fill="url(#h4_16)"/><rect x="14" y="296" width="71" height="1.05" fill="url(#h4_17)"/><rect x="14" y="297" width="71" height="1.05" fill="url(#h4_18)"/><rect x="14" y="298" width="71" height="1.05" fill="url(#h4_19)"/><rect x="14" y="299" width="71" height="1.05" fill="url(#h4_20)"/><rect x="14" y="300" width="71" height="1.05" fill="url(#h4_21)"/><rect x="14" y="301" width="71" height="1.05" fill="url(#h4_22)"/><rect x="14" y="302" width="71" height="1.05" fill="url(#h4_23)"/><rect x="14" y="303" width="71" height="1.05" fill="url(#h4_24)"/><rect x="14" y="304" width="71" height="1.05" fill="url(#h4_25)"/><rect x="14" y="305" width="71" height="1.05" fill="url(#h4_26)"/><rect x="14" y="306" width="71" height="1.05" fill="url(#h4_27)"/><rect x="14" y="307" width="71" height="1.05" fill="url(#h4_28)"/><rect x="14" y="308" width="71" height="1.05" fill="url(#h4_29)"/><rect x="14" y="309" width="71" height="1.05" fill="url(#h4_30)"/><rect x="14" y="310" width="71" height="1.05" fill="url(#h4_31)"/><rect x="14" y="311" width="71" height="1.05" fill="url(#h4_32)"/><rect x="14" y="312" width="71" height="1.05" fill="url(#h4_33)"/><rect x="14" y="313" width="71" height="1.05" fill="url(#h4_34)"/><rect x="14" y="314" width="71" height="1.05" fill="url(#h4_35)"/><rect x="14" y="315" width="71" height="1.05" fill="url(#h4_36)"/><rect x="14" y="316" width="71" height="1.05" fill="url(#h4_37)"/><rect x="14" y="317" width="71" height="1.05" fill="url(#h4_38)"/><rect x="14" y="318" width="71" height="1.05" fill="url(#h4_39)"/><rect x="14" y="319" width="71" height="1.05" fill="url(#h4_40)"/><rect x="14" y="320" width="71" height="1.05" fill="url(#h4_41)"/><rect x="14" y="321" width="71" height="1.05" fill="url(#h4_42)"/><rect x="14" y="322" width="71" height="1.05" fill="url(#h4_43)"/><rect x="14" y="323" width="71" height="1.05" fill="url(#h4_44)"/><rect x="14" y="324" width="71" height="1.05" fill="url(#h4_45)"/><rect x="14" y="325" width="71" height="1.05" fill="url(#h4_46)"/><rect x="14" y="326" width="71" height="1.05" fill="url(#h4_47)"/><rect x="14" y="327" width="71" height="1.05" fill="url(#h4_48)"/><rect x="14" y="328" width="71" height="1.05" fill="url(#h4_49)"/><rect x="14" y="329" width="71" height="1.05" fill="url(#h4_50)"/><rect x="14" y="330" width="71" height="1.05" fill="url(#h4_51)"/><rect x="14" y="331" width="71" height="1.05" fill="url(#h4_52)"/><rect x="14" y="332" width="71" height="1.05" fill="url(#h4_53)"/><rect x="14" y="333" width="71" height="1.05" fill="url(#h4_54)"/><rect x="14" y="334" width="71" height="1.05" fill="url(#h4_55)"/><rect x="14" y="335" width="71" height="1.05" fill="url(#h4_56)"/><rect x="14" y="336" width="71" height="1.05" fill="url(#h4_57)"/><rect x="14" y="337" width="71" height="1.05" fill="url(#h4_58)"/><rect x="14" y="338" width="71" height="1.05" fill="url(#h4_59)"/><rect x="14" y="339" width="71" height="1.05" fill="url(#h4_60)"/><rect x="14" y="340" width="71" height="1.05" fill="url(#h4_61)"/><rect x="14" y="341" width="71" height="1.05" fill="url(#h4_62)"/><rect x="14" y="342" width="71" height="1.05" fill="url(#h4_63)"/><rect x="14" y="343" width="71" height="1.05" fill="url(#h4_64)"/><rect x="14" y="344" width="71" height="1.05" fill="url(#h4_65)"/><rect x="14" y="345" width="71" height="1.05" fill="url(#h4_66)"/><rect x="14" y="346" width="71" height="1.05" fill="url(#h4_67)"/><rect x="14" y="347" width="71" height="1.05" fill="url(#h4_68)"/><rect x="14" y="348" width="71" height="1.05" fill="url(#h4_69)"/><rect x="14" y="349" width="71" height="1.05" fill="url(#h4_70)"/></g>
<path d="M14.2,279.4 L49.2,296.6 L84.6,279.4 L84.6,348.9 L49.2,331.7 L14.2,348.9 Z" fill="#000" filter="url(#nz4)" opacity="0.4" mask="url(#mk4)"/>
<path d="M7,279.4 H14.2 L49.2,296.6 L84.6,279.4 H91.5 M7,348.9 H14.2 L49.2,331.7 L84.6,348.9 H91.5" fill="none" stroke="#b020b8" stroke-width="2.2"/>
<rect x="147.3" y="45.4" width="118.0" height="70.9" fill="none" stroke="#5a5a5a" stroke-width="1.05"/>
<path d="M153.20,116.3v-1.5M153.20,45.4v1.5M159.10,116.3v-1.5M159.10,45.4v1.5M165.00,116.3v-1.5M165.00,45.4v1.5M170.90,116.3v-1.5M170.90,45.4v1.5M176.80,116.3v-1.5M176.80,45.4v1.5M182.70,116.3v-1.5M182.70,45.4v1.5M188.60,116.3v-1.5M188.60,45.4v1.5M194.50,116.3v-1.5M194.50,45.4v1.5M200.40,116.3v-1.5M200.40,45.4v1.5M206.30,116.3v-1.5M206.30,45.4v1.5M212.20,116.3v-1.5M212.20,45.4v1.5M218.10,116.3v-1.5M218.10,45.4v1.5M224.00,116.3v-1.5M224.00,45.4v1.5M229.90,116.3v-1.5M229.90,45.4v1.5M235.80,116.3v-1.5M235.80,45.4v1.5M241.70,116.3v-1.5M241.70,45.4v1.5M247.60,116.3v-1.5M247.60,45.4v1.5M253.50,116.3v-1.5M253.50,45.4v1.5M259.40,116.3v-1.5M259.40,45.4v1.5M147.3,109.85h1.5M265.3,109.85h-1.5M147.3,103.41h1.5M265.3,103.41h-1.5M147.3,96.96h1.5M265.3,96.96h-1.5M147.3,90.52h1.5M265.3,90.52h-1.5M147.3,84.07h1.5M265.3,84.07h-1.5M147.3,77.63h1.5M265.3,77.63h-1.5M147.3,71.18h1.5M265.3,71.18h-1.5M147.3,64.74h1.5M265.3,64.74h-1.5M147.3,58.29h1.5M265.3,58.29h-1.5M147.3,51.85h1.5M265.3,51.85h-1.5" stroke="#707070" stroke-width="0.8" fill="none"/>
<text transform="translate(143.40,54.60) scale(1,1.1)" font-size="13.6" text-anchor="end" >1</text>
<text transform="translate(143.40,87.60) scale(1,1.1)" font-size="13.6" text-anchor="end" >0.5</text>
<text transform="translate(143.60,121.30) scale(1,1.1)" font-size="13.6" text-anchor="end" >0</text>
<text transform="translate(115.2,79.6) rotate(-90)" font-size="14.6" text-anchor="middle" textLength="60.5" lengthAdjust="spacingAndGlyphs">Intensity</text>
<rect x="147.3" y="123.8" width="118.0" height="69.8" fill="none" stroke="#5a5a5a" stroke-width="1.05"/>
<path d="M153.20,193.6v-1.5M153.20,123.8v1.5M159.10,193.6v-1.5M159.10,123.8v1.5M165.00,193.6v-1.5M165.00,123.8v1.5M170.90,193.6v-1.5M170.90,123.8v1.5M176.80,193.6v-1.5M176.80,123.8v1.5M182.70,193.6v-1.5M182.70,123.8v1.5M188.60,193.6v-1.5M188.60,123.8v1.5M194.50,193.6v-1.5M194.50,123.8v1.5M200.40,193.6v-1.5M200.40,123.8v1.5M206.30,193.6v-1.5M206.30,123.8v1.5M212.20,193.6v-1.5M212.20,123.8v1.5M218.10,193.6v-1.5M218.10,123.8v1.5M224.00,193.6v-1.5M224.00,123.8v1.5M229.90,193.6v-1.5M229.90,123.8v1.5M235.80,193.6v-1.5M235.80,123.8v1.5M241.70,193.6v-1.5M241.70,123.8v1.5M247.60,193.6v-1.5M247.60,123.8v1.5M253.50,193.6v-1.5M253.50,123.8v1.5M259.40,193.6v-1.5M259.40,123.8v1.5M147.3,187.25h1.5M265.3,187.25h-1.5M147.3,180.91h1.5M265.3,180.91h-1.5M147.3,174.56h1.5M265.3,174.56h-1.5M147.3,168.22h1.5M265.3,168.22h-1.5M147.3,161.87h1.5M265.3,161.87h-1.5M147.3,155.53h1.5M265.3,155.53h-1.5M147.3,149.18h1.5M265.3,149.18h-1.5M147.3,142.84h1.5M265.3,142.84h-1.5M147.3,136.49h1.5M265.3,136.49h-1.5M147.3,130.15h1.5M265.3,130.15h-1.5" stroke="#707070" stroke-width="0.8" fill="none"/>
<text transform="translate(143.40,131.90) scale(1,1.1)" font-size="13.6" text-anchor="end" >1</text>
<text transform="translate(143.40,164.90) scale(1,1.1)" font-size="13.6" text-anchor="end" >0.5</text>
<text transform="translate(143.60,198.60) scale(1,1.1)" font-size="13.6" text-anchor="end" >0</text>
<text transform="translate(115.2,157.5) rotate(-90)" font-size="14.6" text-anchor="middle" textLength="60.5" lengthAdjust="spacingAndGlyphs">Intensity</text>
<rect x="147.3" y="201.8" width="118.0" height="69.80000000000001" fill="none" stroke="#5a5a5a" stroke-width="1.05"/>
<path d="M153.20,271.6v-1.5M153.20,201.8v1.5M159.10,271.6v-1.5M159.10,201.8v1.5M165.00,271.6v-1.5M165.00,201.8v1.5M170.90,271.6v-1.5M170.90,201.8v1.5M176.80,271.6v-1.5M176.80,201.8v1.5M182.70,271.6v-1.5M182.70,201.8v1.5M188.60,271.6v-1.5M188.60,201.8v1.5M194.50,271.6v-1.5M194.50,201.8v1.5M200.40,271.6v-1.5M200.40,201.8v1.5M206.30,271.6v-1.5M206.30,201.8v1.5M212.20,271.6v-1.5M212.20,201.8v1.5M218.10,271.6v-1.5M218.10,201.8v1.5M224.00,271.6v-1.5M224.00,201.8v1.5M229.90,271.6v-1.5M229.90,201.8v1.5M235.80,271.6v-1.5M235.80,201.8v1.5M241.70,271.6v-1.5M241.70,201.8v1.5M247.60,271.6v-1.5M247.60,201.8v1.5M253.50,271.6v-1.5M253.50,201.8v1.5M259.40,271.6v-1.5M259.40,201.8v1.5M147.3,265.25h1.5M265.3,265.25h-1.5M147.3,258.91h1.5M265.3,258.91h-1.5M147.3,252.56h1.5M265.3,252.56h-1.5M147.3,246.22h1.5M265.3,246.22h-1.5M147.3,239.87h1.5M265.3,239.87h-1.5M147.3,233.53h1.5M265.3,233.53h-1.5M147.3,227.18h1.5M265.3,227.18h-1.5M147.3,220.84h1.5M265.3,220.84h-1.5M147.3,214.49h1.5M265.3,214.49h-1.5M147.3,208.15h1.5M265.3,208.15h-1.5" stroke="#707070" stroke-width="0.8" fill="none"/>
<text transform="translate(143.40,209.90) scale(1,1.1)" font-size="13.6" text-anchor="end" >1</text>
<text transform="translate(143.40,242.90) scale(1,1.1)" font-size="13.6" text-anchor="end" >0.5</text>
<text transform="translate(143.60,276.60) scale(1,1.1)" font-size="13.6" text-anchor="end" >0</text>
<text transform="translate(115.2,235.5) rotate(-90)" font-size="14.6" text-anchor="middle" textLength="60.5" lengthAdjust="spacingAndGlyphs">Intensity</text>
<rect x="147.3" y="278.9" width="118.0" height="70.10000000000002" fill="none" stroke="#5a5a5a" stroke-width="1.05"/>
<path d="M153.20,349v-1.5M153.20,278.9v1.5M159.10,349v-1.5M159.10,278.9v1.5M165.00,349v-1.5M165.00,278.9v1.5M170.90,349v-1.5M170.90,278.9v1.5M176.80,349v-1.5M176.80,278.9v1.5M182.70,349v-1.5M182.70,278.9v1.5M188.60,349v-1.5M188.60,278.9v1.5M194.50,349v-1.5M194.50,278.9v1.5M200.40,349v-1.5M200.40,278.9v1.5M206.30,349v-1.5M206.30,278.9v1.5M212.20,349v-1.5M212.20,278.9v1.5M218.10,349v-1.5M218.10,278.9v1.5M224.00,349v-1.5M224.00,278.9v1.5M229.90,349v-1.5M229.90,278.9v1.5M235.80,349v-1.5M235.80,278.9v1.5M241.70,349v-1.5M241.70,278.9v1.5M247.60,349v-1.5M247.60,278.9v1.5M253.50,349v-1.5M253.50,278.9v1.5M259.40,349v-1.5M259.40,278.9v1.5M147.3,342.63h1.5M265.3,342.63h-1.5M147.3,336.25h1.5M265.3,336.25h-1.5M147.3,329.88h1.5M265.3,329.88h-1.5M147.3,323.51h1.5M265.3,323.51h-1.5M147.3,317.14h1.5M265.3,317.14h-1.5M147.3,310.76h1.5M265.3,310.76h-1.5M147.3,304.39h1.5M265.3,304.39h-1.5M147.3,298.02h1.5M265.3,298.02h-1.5M147.3,291.65h1.5M265.3,291.65h-1.5M147.3,285.27h1.5M265.3,285.27h-1.5" stroke="#707070" stroke-width="0.8" fill="none"/>
<text transform="translate(143.40,287.30) scale(1,1.1)" font-size="13.6" text-anchor="end" >1</text>
<text transform="translate(143.40,320.30) scale(1,1.1)" font-size="13.6" text-anchor="end" >0.5</text>
<text transform="translate(143.60,354.00) scale(1,1.1)" font-size="13.6" text-anchor="end" >0</text>
<text transform="translate(115.2,312.8) rotate(-90)" font-size="14.6" text-anchor="middle" textLength="60.5" lengthAdjust="spacingAndGlyphs">Intensity</text>
<path d="M179.1,60.9h0.9M161.2,85.0h0.9M241.3,70.5h0.9M178.7,60.9h0.9M241.2,70.2h0.9M220.7,50.3h0.9M244.5,74.6h0.9M231.4,58.5h0.9M161.0,84.6h0.9M185.7,54.9h0.9M244.3,74.2h0.9M229.0,56.1h0.9M228.5,55.6h0.9M237.5,65.6h0.9M251.5,84.5h0.9M164.5,80.0h0.9M176.9,63.0h0.9M185.6,54.6h0.9M190.8,50.6h0.9M248.3,79.8h0.9M250.8,83.5h0.9M257.3,93.6h0.9M171.3,69.9h0.9M254.5,89.1h0.9M228.5,56.2h0.9M240.7,69.4h0.9M184.0,56.4h0.9M243.1,72.2h0.9M163.6,80.8h0.9M170.0,72.1h0.9M234.2,61.4h0.9M159.0,87.9h0.9M159.0,87.7h0.9M188.7,51.8h0.9M256.2,92.1h0.9M258.1,95.2h0.9M162.4,82.7h0.9M157.6,90.3h0.9M170.6,71.5h0.9M244.5,74.7h0.9M253.9,88.2h0.9M221.2,50.2h0.9M252.1,85.6h0.9M229.2,56.8h0.9M185.6,54.2h0.9M155.6,93.4h0.9" stroke="#303030" stroke-width="0.8" fill="none"/>
<path d="M147.30,108.32 C148.28,106.72 151.23,101.90 153.20,98.75 C155.17,95.60 157.13,92.45 159.10,89.41 C161.07,86.38 163.03,83.39 165.00,80.54 C166.97,77.70 168.93,74.94 170.90,72.36 C172.87,69.78 174.83,67.32 176.80,65.06 C178.77,62.80 180.73,60.70 182.70,58.82 C184.67,56.95 186.63,55.26 188.60,53.81 C190.57,52.36 192.53,51.12 194.50,50.13 C196.47,49.15 198.43,48.39 200.40,47.89 C202.37,47.39 204.33,47.14 206.30,47.14 C208.27,47.14 210.23,47.39 212.20,47.89 C214.17,48.39 216.13,49.15 218.10,50.13 C220.07,51.12 222.03,52.36 224.00,53.81 C225.97,55.26 227.93,56.95 229.90,58.82 C231.87,60.70 233.83,62.80 235.80,65.06 C237.77,67.32 239.73,69.78 241.70,72.36 C243.67,74.94 245.63,77.70 247.60,80.54 C249.57,83.39 251.53,86.38 253.50,89.41 C255.47,92.45 257.43,95.60 259.40,98.75 C261.37,101.90 264.32,106.72 265.30,108.32" fill="none" stroke="#000" stroke-width="1.5"/>
<path d="M147.30,108.32 C148.28,106.72 151.23,101.90 153.20,98.75 C155.17,95.60 157.13,92.45 159.10,89.41 C161.07,86.38 163.03,83.39 165.00,80.54 C166.97,77.70 168.93,74.94 170.90,72.36 C172.87,69.78 174.83,67.32 176.80,65.06 C178.77,62.80 180.73,60.70 182.70,58.82 C184.67,56.95 186.63,55.26 188.60,53.81 C190.57,52.36 192.53,51.12 194.50,50.13 C196.47,49.15 198.43,48.39 200.40,47.89 C202.37,47.39 204.33,47.14 206.30,47.14 C208.27,47.14 210.23,47.39 212.20,47.89 C214.17,48.39 216.13,49.15 218.10,50.13 C220.07,51.12 222.03,52.36 224.00,53.81 C225.97,55.26 227.93,56.95 229.90,58.82 C231.87,60.70 233.83,62.80 235.80,65.06 C237.77,67.32 239.73,69.78 241.70,72.36 C243.67,74.94 245.63,77.70 247.60,80.54 C249.57,83.39 251.53,86.38 253.50,89.41 C255.47,92.45 257.43,95.60 259.40,98.75 C261.37,101.90 264.32,106.72 265.30,108.32" fill="none" stroke="#ff2020" stroke-width="0.8" stroke-dasharray="1.5 5" opacity="0.8"/>
<path d="M147.30,182.30 C148.48,179.75 151.67,172.05 154.40,167.00 C157.13,161.95 160.58,156.38 163.70,152.00 C166.82,147.62 169.97,143.92 173.10,140.70 C176.23,137.48 180.02,134.60 182.50,132.70 C184.98,130.80 185.92,130.22 188.00,129.30 C190.08,128.38 192.67,127.38 195.00,127.20 C197.33,127.02 199.67,127.57 202.00,128.20 C204.33,128.83 206.67,129.77 209.00,131.00 C211.33,132.23 213.75,133.67 216.00,135.60 C218.25,137.53 219.87,139.87 222.50,142.60 C225.13,145.33 228.68,148.72 231.80,152.00 C234.92,155.28 238.07,158.87 241.20,162.30 C244.33,165.73 247.48,169.17 250.60,172.60 C253.72,176.03 257.45,180.28 259.90,182.90 C262.35,185.52 264.40,187.40 265.30,188.30" fill="none" stroke="#000" stroke-width="1.5"/>
<path d="M147.30,182.30 C148.48,179.75 151.67,172.05 154.40,167.00 C157.13,161.95 160.58,156.38 163.70,152.00 C166.82,147.62 169.97,143.92 173.10,140.70 C176.23,137.48 180.02,134.60 182.50,132.70 C184.98,130.80 185.92,130.22 188.00,129.30 C190.08,128.38 192.67,127.38 195.00,127.20 C197.33,127.02 199.67,127.57 202.00,128.20 C204.33,128.83 206.67,129.77 209.00,131.00 C211.33,132.23 213.75,133.67 216.00,135.60 C218.25,137.53 219.87,139.87 222.50,142.60 C225.13,145.33 228.68,148.72 231.80,152.00 C234.92,155.28 238.07,158.87 241.20,162.30 C244.33,165.73 247.48,169.17 250.60,172.60 C253.72,176.03 257.45,180.28 259.90,182.90 C262.35,185.52 264.40,187.40 265.30,188.30" fill="none" stroke="#1010e0" stroke-width="1.25" stroke-dasharray="3.5 2.5"/>
<path d="M147.30,259.90 C148.48,257.40 151.67,249.88 154.40,244.90 C157.13,239.92 160.58,234.20 163.70,230.00 C166.82,225.80 169.97,222.67 173.10,219.70 C176.23,216.73 179.38,214.30 182.50,212.20 C185.62,210.10 188.68,208.33 191.80,207.10 C194.92,205.87 198.25,205.13 201.20,204.80 C204.15,204.47 206.58,204.72 209.50,205.10 C212.42,205.48 215.60,206.08 218.70,207.10 C221.80,208.12 224.97,209.27 228.10,211.20 C231.23,213.13 234.38,215.57 237.50,218.70 C240.62,221.83 243.68,225.78 246.80,230.00 C249.92,234.22 253.12,239.02 256.20,244.00 C259.28,248.98 263.78,257.25 265.30,259.90" fill="none" stroke="#000" stroke-width="1.5"/>
<path d="M147.30,259.90 C148.48,257.40 151.67,249.88 154.40,244.90 C157.13,239.92 160.58,234.20 163.70,230.00 C166.82,225.80 169.97,222.67 173.10,219.70 C176.23,216.73 179.38,214.30 182.50,212.20 C185.62,210.10 188.68,208.33 191.80,207.10 C194.92,205.87 198.25,205.13 201.20,204.80 C204.15,204.47 206.58,204.72 209.50,205.10 C212.42,205.48 215.60,206.08 218.70,207.10 C221.80,208.12 224.97,209.27 228.10,211.20 C231.23,213.13 234.38,215.57 237.50,218.70 C240.62,221.83 243.68,225.78 246.80,230.00 C249.92,234.22 253.12,239.02 256.20,244.00 C259.28,248.98 263.78,257.25 265.30,259.90" fill="none" stroke="#10a010" stroke-width="1.25" stroke-dasharray="3.5 2.5"/>
<path d="M147.30,343.00 C148.45,341.77 151.50,338.50 154.20,335.60 C156.90,332.70 160.42,329.20 163.50,325.60 C166.58,322.00 169.63,317.93 172.70,314.00 C175.77,310.07 178.82,305.85 181.90,302.00 C184.98,298.15 188.42,293.73 191.20,290.90 C193.98,288.07 196.08,286.47 198.60,285.00 C201.12,283.53 203.92,282.18 206.30,282.10 C208.68,282.02 210.87,283.50 212.90,284.50 C214.93,285.50 216.03,286.10 218.50,288.10 C220.97,290.10 224.63,293.12 227.70,296.50 C230.77,299.88 233.83,304.42 236.90,308.40 C239.97,312.38 243.02,316.55 246.10,320.40 C249.18,324.25 252.20,327.73 255.40,331.50 C258.60,335.27 263.65,341.08 265.30,343.00" fill="none" stroke="#000" stroke-width="1.5"/>
<path d="M147.30,343.00 C148.45,341.77 151.50,338.50 154.20,335.60 C156.90,332.70 160.42,329.20 163.50,325.60 C166.58,322.00 169.63,317.93 172.70,314.00 C175.77,310.07 178.82,305.85 181.90,302.00 C184.98,298.15 188.42,293.73 191.20,290.90 C193.98,288.07 196.08,286.47 198.60,285.00 C201.12,283.53 203.92,282.18 206.30,282.10 C208.68,282.02 210.87,283.50 212.90,284.50 C214.93,285.50 216.03,286.10 218.50,288.10 C220.97,290.10 224.63,293.12 227.70,296.50 C230.77,299.88 233.83,304.42 236.90,308.40 C239.97,312.38 243.02,316.55 246.10,320.40 C249.18,324.25 252.20,327.73 255.40,331.50 C258.60,335.27 263.65,341.08 265.30,343.00" fill="none" stroke="#e020e0" stroke-width="1.25" stroke-dasharray="3.5 2.5"/>
<text transform="translate(147.50,365.60) scale(1,1.1)" font-size="13.6" text-anchor="middle" >0</text>
<text transform="translate(171.10,365.60) scale(1,1.1)" font-size="13.6" text-anchor="middle" >0.2</text>
<text transform="translate(194.70,365.60) scale(1,1.1)" font-size="13.6" text-anchor="middle" >0.4</text>
<text transform="translate(218.30,365.60) scale(1,1.1)" font-size="13.6" text-anchor="middle" >0.6</text>
<text transform="translate(241.90,365.60) scale(1,1.1)" font-size="13.6" text-anchor="middle" >0.8</text>
<text transform="translate(265.50,365.60) scale(1,1.1)" font-size="13.6" text-anchor="middle" >1</text>
<text x="199.2" y="380.3" font-size="15.5" font-style="italic">z</text>
<path d="M212.6,369.2 L206.8,383.6" stroke="#000" stroke-width="0.95"/>
<text x="214.2" y="380.3" font-size="15.5" font-style="italic">L</text>
<text x="440" y="14" font-size="15" font-weight="bold" text-anchor="middle">(b) Transverse localization of</text>
<text x="441" y="29.6" font-size="15" font-weight="bold" text-anchor="middle">transmission eigenchannels</text>
<rect x="345.7" y="41.5" width="75.7" height="181.1" fill="none" stroke="#808080" stroke-width="1"/>
<rect x="490.5" y="41.5" width="75.6" height="181.1" fill="none" stroke="#808080" stroke-width="1"/>
<path d="M345.7,71.7h1.6M421.4,71.7h-1.6M345.7,101.9h1.6M421.4,101.9h-1.6M345.7,132.1h1.6M421.4,132.1h-1.6M345.7,162.2h1.6M421.4,162.2h-1.6M345.7,192.4h1.6M421.4,192.4h-1.6M353.3,41.5v1.3M353.3,222.6v-1.3M360.8,41.5v1.3M360.8,222.6v-1.3M368.4,41.5v1.3M368.4,222.6v-1.3M376.0,41.5v1.3M376.0,222.6v-1.3M383.5,41.5v1.3M383.5,222.6v-1.3M391.1,41.5v1.3M391.1,222.6v-1.3M398.7,41.5v1.3M398.7,222.6v-1.3M406.3,41.5v1.3M406.3,222.6v-1.3M413.8,41.5v1.3M413.8,222.6v-1.3M490.5,71.7h1.6M566.1,71.7h-1.6M490.5,101.9h1.6M566.1,101.9h-1.6M490.5,132.1h1.6M566.1,132.1h-1.6M490.5,162.2h1.6M566.1,162.2h-1.6M490.5,192.4h1.6M566.1,192.4h-1.6M498.1,41.5v1.3M498.1,222.6v-1.3M505.6,41.5v1.3M505.6,222.6v-1.3M513.2,41.5v1.3M513.2,222.6v-1.3M520.7,41.5v1.3M520.7,222.6v-1.3M528.3,41.5v1.3M528.3,222.6v-1.3M535.9,41.5v1.3M535.9,222.6v-1.3M543.4,41.5v1.3M543.4,222.6v-1.3M551.0,41.5v1.3M551.0,222.6v-1.3M558.5,41.5v1.3M558.5,222.6v-1.3" stroke="#909090" stroke-width="0.8" fill="none"/>
<rect x="433.4" y="41.5" width="45.3" height="181.29999999999998" fill="#000"/>
<text x="382.3" y="59.5" font-size="14.5" text-anchor="middle">Input</text>
<text x="527.2" y="60" font-size="14.5" text-anchor="middle">Output</text>
<text x="343.6" y="46.2" font-size="14.3" text-anchor="end">-<tspan font-style="italic">W</tspan><tspan dx="0.6">/4</tspan></text>
<text x="343.6" y="227.2" font-size="14.3" text-anchor="end"><tspan font-style="italic">W</tspan><tspan dx="0.6">/4</tspan></text>
<text x="341" y="136" font-size="14" text-anchor="end">0</text>
<text transform="translate(319.3,134) rotate(-90)" font-size="14.6" text-anchor="middle" textLength="114" lengthAdjust="spacingAndGlyphs">Transverse position</text>
<path d="M346.2,95.9h10.7M346.2,97.7h16.6M346.2,97.7h14.9M346.2,98.6h14.8M346.2,99.5h16.8M346.2,99.5h18.6M346.2,102.2h27.7M346.2,103.1h27.0M346.2,104.9h29.5M346.2,105.8h33.8M346.2,106.7h35.1M346.2,110.3h41.8M346.2,111.2h43.2M346.2,113.0h38.0M346.2,113.9h53.6M346.2,113.9h51.5M346.2,114.8h43.4M346.2,115.7h49.2M346.2,115.7h50.6M346.2,117.5h41.8M346.2,118.4h61.8M346.2,119.3h53.0M346.2,121.1h61.5M346.2,122.0h71.0M346.2,122.9h59.9M346.2,124.7h50.9M346.2,124.7h62.2M346.2,125.6h58.6M346.2,127.4h49.4M346.2,127.4h53.5M346.2,128.3h49.5M346.2,130.1h36.8M346.2,131.0h46.4M346.2,131.0h44.0M346.2,131.9h41.5M346.2,132.8h44.0M346.2,132.8h42.4M346.2,133.7h39.1M346.2,133.7h41.6M346.2,134.6h40.6M346.2,135.5h27.2M346.2,135.5h38.5M346.2,136.4h28.5M346.2,136.4h33.4M346.2,137.3h29.5M346.2,140.0h23.0M346.2,140.9h22.2M346.2,142.7h20.4M346.2,142.7h14.7M346.2,143.6h18.5M346.2,144.5h16.5M346.2,144.5h16.6M346.2,145.4h17.2M346.2,146.3h12.1M346.2,147.2h13.2M346.2,148.1h8.6M346.2,149.0h9.0M346.2,149.9h6.6" stroke="#a8b8dc" stroke-width="0.6" fill="none" opacity="0.7"/><path d="M346.2,95.0h6.4M346.2,95.0h6.9M346.2,95.9h10.7M346.2,95.9h7.6M354.7,96.8h5.1M348.7,96.8h10.9M357.0,97.7h5.8M346.2,97.7h14.9M346.2,98.6h14.8M346.2,98.6h14.8M352.0,99.5h11.0M352.3,99.5h12.5M350.0,100.4h19.5M346.2,100.4h18.1M351.5,101.3h13.7M346.2,101.3h24.6M351.4,102.2h22.4M346.2,102.2h25.7M352.9,103.1h20.3M346.2,103.1h24.0M351.7,104.0h19.3M362.1,104.0h14.7M351.9,104.9h25.2M358.0,104.9h17.7M347.9,105.8h23.3M364.8,105.8h15.2M350.3,106.7h30.5M353.9,106.7h27.4M353.1,107.6h29.8M370.1,107.6h12.0M385.0,108.5h5.1M360.6,108.5h28.0M372.1,109.4h18.5M378.8,109.4h6.5M379.1,110.3h10.2M373.8,110.3h14.3M369.5,111.2h21.2M383.7,111.2h5.7M365.3,112.1h20.2M370.7,112.1h25.7M362.0,113.0h26.9M378.7,113.0h5.4M388.3,113.9h11.5M383.8,113.9h14.0M370.9,114.8h18.7M369.1,114.8h23.5M378.1,115.7h17.3M380.9,115.7h15.9M362.5,116.6h28.4M373.4,116.6h20.7M382.5,117.5h5.5M397.7,117.5h9.2M388.9,118.4h19.2M387.5,118.4h25.7M377.3,119.3h21.9M394.5,119.3h13.4M381.6,120.2h12.8M402.6,120.2h13.0M390.8,121.1h29.4M396.2,121.1h11.6M409.7,122.0h6.0M397.4,122.0h19.8M382.7,122.9h30.3M391.2,122.9h14.8M374.0,123.8h22.5M388.4,123.8h7.7M379.1,124.7h18.0M380.0,124.7h28.4M379.3,125.6h13.5M391.0,125.6h13.8M374.1,126.5h26.8M366.7,126.5h27.9M365.0,127.4h30.6M392.5,127.4h7.2M389.8,128.3h10.5M368.8,128.3h26.9M376.7,129.2h12.6M364.0,129.2h29.8M363.7,130.1h19.3M372.9,130.1h6.9M366.0,131.0h26.5M364.9,131.0h25.3M376.9,131.9h10.8M354.7,131.9h28.2M373.3,132.8h16.9M362.1,132.8h26.5M378.0,133.7h7.4M381.7,133.7h6.0M370.9,134.6h15.9M365.0,134.6h11.3M346.2,135.5h27.2M356.0,135.5h28.6M357.3,136.4h17.4M373.6,136.4h6.0M368.1,137.3h12.7M362.5,137.3h13.1M348.1,138.2h30.2M358.8,138.2h10.6M357.7,139.1h19.1M362.6,139.1h11.7M357.8,140.0h11.4M346.2,140.0h22.7M348.9,140.9h21.7M355.5,140.9h13.0M346.2,141.8h20.0M352.3,141.8h13.7M346.2,142.7h20.4M349.6,142.7h11.3M357.9,143.6h6.8M352.7,143.6h12.6M346.2,144.5h16.5M346.2,144.5h16.6M353.7,145.4h9.5M346.2,145.4h17.2M346.2,146.3h10.8M346.2,146.3h12.1M353.5,147.2h5.8M346.2,147.2h13.1M346.2,148.1h11.1M346.2,148.1h8.6M346.2,149.0h9.0M346.2,149.0h6.5M346.2,149.9h6.9M346.2,149.9h6.6" stroke="#2048a0" stroke-width="0.7" fill="none" opacity="0.9"/>
<path d="M491,95.0h8.8M491,95.9h10.6M491,97.7h14.5M491,97.7h11.1M491,98.6h17.3M491,99.5h22.1M491,104.0h31.4M491,104.0h27.2M491,105.8h34.1M491,107.6h28.8M491,108.5h34.3M491,108.5h39.1M491,109.4h43.7M491,110.3h36.4M491,112.1h39.0M491,113.0h50.1M491,115.7h51.4M491,117.5h47.9M491,119.3h66.8M491,120.2h60.7M491,120.2h47.3M491,121.1h74.0M491,121.1h54.5M491,122.0h61.4M491,122.9h59.0M491,123.8h55.0M491,123.8h45.7M491,124.7h50.1M491,125.6h38.9M491,127.4h38.8M491,128.3h40.9M491,128.3h46.5M491,129.2h37.4M491,131.9h44.4M491,133.7h40.4M491,134.6h40.2M491,138.2h23.5M491,139.1h27.2M491,140.0h24.4M491,146.3h11.5M491,147.2h12.2M491,148.1h9.9M491,149.0h9.1" stroke="#f4b0b0" stroke-width="0.6" fill="none" opacity="0.7"/><path d="M491.0,95.0h8.8M491.0,95.0h6.2M491.0,95.9h10.8M491.0,95.9h10.6M491.0,96.8h12.2M491.0,96.8h14.5M493.5,97.7h12.0M491.0,97.7h11.1M491.0,98.6h16.2M497.2,98.6h11.1M500.2,99.5h8.6M491.0,99.5h22.1M491.0,100.4h23.8M491.0,100.4h23.9M491.0,101.3h21.9M491.0,101.3h19.7M497.1,102.2h18.8M501.6,102.2h18.0M491.0,103.1h25.7M498.1,103.1h19.8M504.7,104.0h17.7M495.0,104.0h23.2M514.3,104.9h12.0M491.0,104.9h28.8M505.7,105.8h18.5M512.0,105.8h13.1M496.9,106.7h29.3M492.4,106.7h26.3M522.8,107.6h10.0M497.8,107.6h22.0M497.6,108.5h27.8M502.9,108.5h27.2M498.8,109.4h27.9M528.9,109.4h5.8M504.9,110.3h22.5M534.1,110.3h5.7M512.2,111.2h11.6M518.8,111.2h9.8M529.1,112.1h6.1M524.1,112.1h5.9M516.8,113.0h24.3M530.2,113.0h5.8M521.2,113.9h24.2M517.8,113.9h27.4M531.4,114.8h10.9M531.3,114.8h7.7M542.8,115.7h8.3M524.0,115.7h18.4M542.8,116.6h11.7M539.2,116.6h5.5M532.4,117.5h6.5M532.1,117.5h7.5M519.6,118.4h30.6M548.1,118.4h11.0M525.1,119.3h20.4M534.4,119.3h23.4M533.0,120.2h18.7M522.7,120.2h15.6M553.7,121.1h11.3M534.5,121.1h11.0M535.3,122.0h17.1M544.4,122.0h10.5M534.5,122.9h24.0M529.9,122.9h20.1M527.3,123.8h18.7M510.9,123.8h25.9M517.2,124.7h29.0M510.5,124.7h30.6M507.1,125.6h22.8M512.8,125.6h26.9M511.6,126.5h16.7M531.2,126.5h10.4M517.4,127.4h12.4M539.9,127.4h7.0M512.0,128.3h19.9M513.0,128.3h24.6M520.3,129.2h8.2M519.9,129.2h21.7M531.8,130.1h5.6M514.8,130.1h23.8M513.6,131.0h16.9M510.1,131.0h18.7M510.9,131.9h25.9M522.7,131.9h12.7M517.4,132.8h11.7M502.7,132.8h28.9M523.9,133.7h7.5M524.4,133.7h8.8M511.1,134.6h7.2M509.3,134.6h21.9M510.3,135.5h11.0M509.7,135.5h16.4M497.6,136.4h19.1M517.6,136.4h7.5M511.2,137.3h11.7M497.0,137.3h23.3M498.0,138.2h25.4M498.0,138.2h16.5M491.0,139.1h27.2M499.9,139.1h17.5M491.0,140.0h26.4M491.0,140.0h24.4M493.8,140.9h22.1M505.8,140.9h10.8M491.0,141.8h20.5M508.0,141.8h5.3M491.0,142.7h21.1M507.3,142.7h5.4M491.0,143.6h19.4M503.7,143.6h7.6M498.7,144.5h10.2M497.9,144.5h10.0M491.0,145.4h12.3M491.0,145.4h13.3M491.0,146.3h11.5M491.0,146.3h9.3M491.0,147.2h12.2M491.0,147.2h12.2M495.2,148.1h5.7M492.2,148.1h9.5M491.0,149.0h9.1M491.0,149.0h9.1M491.0,149.9h5.7M491.9,149.9h5.3" stroke="#e81818" stroke-width="0.7" fill="none" opacity="0.9"/>
<path d="M423,118.9h4.2v-3.1l4.3,5.7l-4.3,5.7v-3.1h-4.2z" fill="#1c58b8"/>
<path d="M480.3,118.9h4.2v-3.1l4.3,5.7l-4.3,5.7v-3.1h-4.2z" fill="#e82828"/>
<defs><filter id="bl" x="-50%" y="-50%" width="200%" height="200%"><feGaussianBlur stdDeviation="2"/></filter>
<filter id="bl1" x="-20%" y="-20%" width="140%" height="140%"><feGaussianBlur stdDeviation="0.7"/></filter>
<filter id="bl2" x="-50%" y="-50%" width="200%" height="200%"><feGaussianBlur stdDeviation="1.6"/></filter>
<clipPath id="cpb"><rect x="433.4" y="41.5" width="45.3" height="181.3"/></clipPath></defs>
<g clip-path="url(#cpb)">
<g filter="url(#bl)">
<path d="M428,95 L456,104 L484,95 L484,142 L466,145 L456,149 L446,145 L428,142 Z" fill="#a01008"/>
<ellipse cx="452" cy="143" rx="9" ry="5" fill="#900a00"/>
</g>
<g filter="url(#bl1)"><path d="M433,105.5L479,125.1M433,100.9L479,130.2M433,135.5L479,104.3M433,110.8L479,108.6M433,114.8L479,141.3M433,131.0L479,105.4M433,115.9L479,118.8M433,119.3L479,124.2M433,131.6L479,117.0M433,107.8L479,135.4M433,111.7L479,131.3M433,129.8L479,105.8M433,135.2L479,102.2M433,107.2L479,131.8M433,106.2L479,138.2M433,112.3L479,137.0M433,116.6L479,119.2M433,127.6L479,139.4M433,118.2L479,130.8M433,117.3L479,148.2M433,128.8L479,119.6M433,129.2L479,107.1M433,128.6L479,115.4M433,119.1L479,125.9M433,133.8L479,123.0M433,127.3L479,114.7M433,129.4L479,117.2M433,116.4L479,115.2M433,105.1L479,136.6M433,134.8L479,103.2M433,136.6L479,104.7M433,102.0L479,121.1M433,132.5L479,100.0M433,140.6L479,110.6M433,136.1L479,116.0M433,124.0L479,141.0M433,136.8L479,126.5M433,120.6L479,111.0M433,125.2L479,99.2M433,111.6L479,128.1M433,138.9L479,108.2M433,97.1L479,126.6M433,121.2L479,128.6M433,109.9L479,137.6M433,113.5L479,116.4M433,136.7L479,124.2M433,133.4L479,105.5M433,135.2L479,112.0M433,125.7L479,103.2M433,119.9L479,90.0M433,130.2L479,124.0M433,129.0L479,111.6M433,114.7L479,111.7M433,118.3L479,113.1M433,146.6L479,115.6M433,125.0L479,124.6M433,114.9L479,130.2M433,104.2L479,134.0M433,127.7L479,101.7M433,116.7L479,112.4M433,133.4L479,119.8M433,130.3L479,127.2M433,115.4L479,146.9M433,122.5L479,119.4M433,113.6L479,112.2M433,128.4L479,114.5M433,122.7L479,114.5M433,106.8L479,139.1M433,127.8L479,127.8M433,124.5L479,113.8M433,115.2L479,133.9M433,111.2L479,135.6M433,106.4L479,124.6M433,121.4L479,134.3M433,121.1L479,112.0M433,107.1L479,120.7M433,111.1L479,129.0M433,120.5L479,133.1M433,112.9L479,122.8M433,130.0L479,135.3M433,135.4L479,118.8M433,115.9L479,127.3M433,107.3L479,117.0M433,113.5L479,133.2M433,109.1L479,124.9M433,116.2L479,138.0M433,103.4L479,127.9M433,122.7L479,135.2M433,132.8L479,134.0M433,118.2L479,120.1M433,111.6L479,140.6M433,130.0L479,128.5M433,110.7L479,125.9M433,124.2L479,102.5M433,116.9L479,127.9M433,117.1L479,111.8M433,110.4L479,119.5M433,107.8L479,122.4M433,125.8L479,121.9M433,116.6L479,126.6M433,118.2L479,126.9M433,143.3L479,113.0M433,131.9L479,102.4M433,133.5L479,109.2M433,129.6L479,109.3M433,138.9L479,108.2M433,112.6L479,120.0M433,119.1L479,125.1M433,138.0L479,104.9M433,134.8L479,128.6M433,132.6L479,107.1M433,115.3L479,137.3M433,116.4L479,123.9M433,135.1L479,108.3M433,114.0L479,119.4M433,104.9L479,135.2M433,113.0L479,133.8M433,111.7L479,121.1M433,116.0L479,122.4M433,121.0L479,125.2M433,130.1L479,137.3M433,122.3L479,112.5M433,133.9L479,107.9M433,118.7L479,123.1M433,114.7L479,123.3M433,106.5L479,132.4M433,126.1L479,108.0M433,131.5L479,117.7M433,110.9L479,141.4M433,106.8L479,134.2M433,102.2L479,134.1M433,118.9L479,118.7M433,101.5L479,133.6M433,123.5L479,122.9M433,132.0L479,106.9M433,122.6L479,130.7M433,108.0L479,126.6M433,111.9L479,133.5M433,134.5L479,119.5M433,107.4L479,136.2M433,129.3L479,113.9M433,128.5L479,105.6M433,121.7L479,128.8M433,121.5L479,119.8M433,108.9L479,125.1M433,128.0L479,102.7M433,120.2L479,122.4M433,122.1L479,111.2M433,120.4L479,118.0M433,131.4L479,122.2M433,135.8L479,105.1M433,122.3L479,105.9M433,97.7L479,123.4M433,122.6L479,125.6M433,132.0L479,127.2M433,119.3L479,124.4M433,119.8L479,118.5M433,100.8L479,128.1M433,105.8L479,129.2M433,134.1L479,114.0M433,132.4L479,103.6M433,119.1L479,141.4M433,126.1L479,112.0M433,106.9L479,125.5M433,124.0L479,122.6M433,117.9L479,121.2M433,127.7L479,104.8M433,118.3L479,124.0M433,130.5L479,112.6M433,108.9L479,130.1M433,138.3L479,106.9M433,106.7L479,121.4M433,132.2L479,145.5M433,133.2L479,103.3M433,118.2L479,127.9M433,103.4L479,133.4M433,127.1L479,113.3M433,104.8L479,132.5M433,127.8L479,122.1M433,137.5L479,115.1M433,132.6L479,106.7M433,123.9L479,115.9M433,120.1L479,125.1M433,113.9L479,130.0M433,125.2L479,120.6M433,125.2L479,112.9M433,102.1L479,131.2M433,121.7L479,113.3M433,139.6L479,116.5M433,119.4L479,128.1M433,108.2L479,111.9M433,116.7L479,124.7M433,128.4L479,112.2M433,119.2L479,135.8M433,126.9L479,109.3M433,124.9L479,116.4M433,113.8L479,128.0M433,112.8L479,123.1M433,140.6L479,113.6M433,136.9L479,112.1" stroke="#ff2010" stroke-opacity="0.36" stroke-width="1.5" fill="none"/><path d="M433,110.2L479,127.5M433,119.9L479,119.0M433,128.6L479,106.9M433,122.0L479,132.4M433,112.9L479,133.7M433,117.6L479,126.0M433,110.7L479,132.4M433,119.1L479,126.7M433,119.1L479,124.8M433,122.4L479,115.7M433,118.8L479,124.0M433,127.8L479,120.9M433,112.0L479,127.2M433,119.0L479,125.8M433,114.4L479,130.6M433,116.8L479,117.6M433,111.5L479,122.5M433,120.6L479,115.8M433,128.5L479,114.8M433,131.9L479,110.7M433,118.5L479,130.5M433,129.5L479,106.5M433,110.5L479,116.0M433,124.1L479,120.8M433,127.1L479,111.2M433,129.0L479,113.4M433,109.8L479,127.3M433,131.5L479,115.5M433,128.5L479,113.0M433,128.9L479,119.1M433,131.9L479,110.4M433,115.8L479,135.3M433,110.7L479,119.3M433,123.7L479,131.7M433,120.6L479,103.0M433,118.8L479,126.6M433,114.4L479,124.9M433,134.1L479,118.6M433,127.3L479,114.9M433,131.3L479,111.9M433,115.7L479,109.5M433,131.2L479,122.5M433,112.7L479,123.4M433,116.7L479,126.7M433,118.6L479,126.5M433,113.5L479,133.8M433,107.8L479,129.7M433,128.9L479,106.2M433,129.1L479,125.0M433,133.7L479,112.8M433,109.6L479,110.5M433,120.9L479,114.0M433,113.2L479,131.6M433,122.0L479,121.6M433,127.9L479,116.1M433,130.6L479,109.9M433,125.4L479,114.2M433,123.9L479,119.6M433,131.0L479,109.7M433,111.5L479,133.2M433,125.1L479,120.6M433,124.4L479,125.8M433,132.7L479,114.6M433,121.7L479,123.7M433,117.5L479,133.9M433,125.0L479,111.9M433,126.0L479,125.4M433,119.9L479,123.2M433,112.1L479,122.5M433,115.4L479,134.4M433,112.2L479,127.2M433,131.1L479,118.4M433,132.7L479,113.8M433,117.1L479,129.6M433,130.7L479,113.7M433,127.4L479,108.2M433,122.7L479,119.4M433,120.9L479,124.4M433,116.5L479,125.8M433,132.5L479,111.7M433,124.8L479,119.0M433,133.0L479,114.5M433,112.4L479,124.0M433,121.3L479,123.9M433,119.6L479,131.5M433,116.0L479,119.4M433,111.0L479,118.1M433,113.3L479,134.2M433,125.4L479,114.7M433,108.1L479,122.5M433,129.3L479,109.3M433,129.8L479,114.6M433,125.4L479,115.5M433,136.5L479,116.4M433,132.1L479,110.3M433,126.3L479,105.6M433,115.3L479,131.9M433,113.5L479,134.2M433,120.5L479,117.2M433,122.3L479,116.0M433,118.8L479,122.7M433,114.2L479,129.2M433,120.1L479,121.5M433,126.7L479,111.6M433,110.1L479,130.3M433,110.4L479,123.9M433,114.1L479,133.2M433,124.1L479,122.3M433,111.2L479,123.5M433,112.8L479,132.9M433,109.0L479,113.4M433,127.9L479,109.6M433,132.6L479,112.0M433,106.6L479,128.6M433,126.3L479,125.5M433,113.4L479,131.0M433,123.9L479,113.7M433,129.4L479,115.6M433,112.1L479,123.6M433,125.4L479,113.6" stroke="#ff6010" stroke-opacity="0.32" stroke-width="1.3" fill="none"/><path d="M433,111.7L479,128.5M433,116.6L479,128.5M433,124.7L479,121.2M433,124.4L479,111.9M433,130.3L479,114.1M433,124.2L479,112.7M433,117.3L479,131.3M433,128.4L479,117.8M433,118.5L479,124.9M433,112.8L479,125.5M433,120.0L479,115.7M433,126.4L479,109.2M433,123.2L479,112.2M433,122.7L479,118.8M433,124.0L479,117.4M433,123.5L479,119.4M433,119.0L479,115.5M433,113.3L479,130.2M433,119.9L479,126.6M433,113.1L479,119.0M433,119.2L479,114.4M433,118.4L479,121.7M433,123.4L479,115.9M433,125.6L479,110.8M433,121.5L479,124.4M433,117.7L479,126.8M433,113.2L479,128.2M433,122.9L479,115.0M433,116.5L479,125.3M433,117.2L479,123.1M433,122.7L479,129.3M433,113.8L479,125.7M433,125.7L479,115.6M433,117.4L479,118.0M433,114.3L479,130.9M433,119.2L479,120.7M433,122.7L479,118.9M433,126.6L479,115.4M433,111.0L479,125.4M433,114.8L479,118.8M433,116.9L479,123.5M433,120.8L479,122.7M433,113.9L479,127.4M433,123.6L479,113.6M433,118.3L479,122.5M433,116.0L479,129.9M433,118.1L479,127.4M433,128.7L479,119.0M433,118.2L479,129.8M433,115.7L479,129.0M433,121.9L479,119.3M433,118.0L479,119.0M433,126.4L479,118.8M433,118.1L479,121.7M433,130.5L479,114.1M433,127.3L479,113.8M433,123.4L479,112.3M433,125.0L479,114.2M433,114.9L479,121.5M433,115.1L479,123.2M433,117.8L479,129.5M433,114.2L479,130.2M433,116.6L479,121.6M433,118.0L479,132.9M433,115.7L479,127.6M433,125.1L479,124.3M433,128.1L479,116.1M433,128.9L479,114.7M433,129.7L479,115.9M433,119.3L479,128.3M433,115.4L479,126.0M433,113.0L479,120.4M433,124.2L479,128.6M433,110.3L479,126.5M433,129.3L479,114.1M433,126.7L479,116.4M433,116.0L479,122.4M433,118.7L479,127.2M433,122.4L479,123.9M433,124.4L479,120.0" stroke="#ffc030" stroke-opacity="0.32" stroke-width="1.1" fill="none"/></g>
<g filter="url(#bl2)">
<ellipse cx="455" cy="121" rx="17" ry="4.5" fill="#ffb000" opacity="0.55"/>
<ellipse cx="455" cy="121.5" rx="7" ry="3" fill="#ffe030" opacity="0.7"/>
</g></g>
<g stroke="#a0a0a0" stroke-width="0.55" stroke-dasharray="2 1.4"><line x1="448.5" y1="42" x2="448.5" y2="222"/><line x1="463.3" y1="42" x2="463.3" y2="222"/></g>
<text x="457.4" y="53" font-size="14" font-style="italic" fill="#f0f0f0" text-anchor="middle">L</text>
<g fill="#e8e8e8"><path d="M440.2,46.4h4.4v-1.9l3.3,2.5l-3.3,2.5v-1.9h-4.4z"/><path d="M471,46.4h-4.4v-1.9l-3.3,2.5l3.3,2.5v-1.9h4.4z"/></g>
<text x="352.3" y="184.6" font-size="15"><tspan font-style="italic">k</tspan><tspan font-size="8" dy="2.2">0</tspan><tspan font-style="italic" dy="-2.2" dx="0.2">D</tspan><tspan font-family="'Liberation Sans', sans-serif" font-size="7.6" dy="2.6">in</tspan><tspan font-family="'Liberation Sans', sans-serif" font-size="14" dy="-2.6" dx="4.5">≈ 90</tspan></text>
<text x="495.4" y="183.2" font-size="15"><tspan font-style="italic">k</tspan><tspan font-size="8" dy="2.2">0</tspan><tspan font-style="italic" dy="-2.2" dx="0.2">D</tspan><tspan font-family="'Liberation Sans', sans-serif" font-size="7.6" dy="2.6">out</tspan><tspan font-family="'Liberation Sans', sans-serif" font-size="14" dy="-2.6" dx="3">≈ 90</tspan></text>
<line x1="364.2" y1="248.2" x2="560.6" y2="248.2" stroke="#bdbdbd" stroke-width="0.9" stroke-dasharray="1.5 0.6"/>
<rect x="364.2" y="244.6" width="196.40000000000003" height="105.20000000000002" fill="none" stroke="#8c8c8c" stroke-width="1.3"/>
<circle cx="495" cy="248.2" r="2.5" fill="#f8f8f8" stroke="#303030" stroke-width="1"/>
<text transform="translate(362.30,249.90) scale(1,1.07)" font-size="14.4" text-anchor="end" >3000</text>
<text transform="translate(362.30,287.00) scale(1,1.07)" font-size="14.4" text-anchor="end" >2000</text>
<text transform="translate(362.30,321.80) scale(1,1.07)" font-size="14.4" text-anchor="end" >1000</text>
<text transform="translate(362.30,354.60) scale(1,1.07)" font-size="14.4" text-anchor="end" >0</text>
<text x="358.2" y="365.8" font-size="14.6">10<tspan font-size="8" dy="-6.2">-3</tspan></text>
<text x="423.7" y="365.8" font-size="14.6">10<tspan font-size="8" dy="-6.2">-2</tspan></text>
<text x="489.1" y="365.8" font-size="14.6">10<tspan font-size="8" dy="-6.2">-1</tspan></text>
<text x="554.6" y="365.8" font-size="14.6">10<tspan font-size="8" dy="-6.2">0</tspan></text>
<text x="463" y="377.3" font-size="14.7" text-anchor="middle">Transmission eigenvalue τ</text>
<text transform="translate(321.6,292.2) rotate(-90)" font-size="15" text-anchor="middle" textLength="93.5" lengthAdjust="spacingAndGlyphs">Effective width</text>
<circle cx="388.7" cy="262" r="2" fill="none" stroke="#303030" stroke-width="0.9"/>
<g stroke="#f07070" stroke-width="0.8"><path d="M386.7,278.7l4,4M390.7,278.7l-4,4"/></g>
<circle cx="388.7" cy="299" r="0.9" fill="#1030a0"/>
<text x="394.8" y="266.5" font-size="14.9">Random input wavefront</text>
<text x="394.8" y="284.8" font-size="14.9">Eigenchannel output</text>
<text x="394.8" y="302.6" font-size="14.9">Eigenchannel input</text>
<path d="M451.9,338.9l2.4,2.4M454.3,338.9l-2.4,2.4M462.7,343.6l2.4,2.4M465.1,343.6l-2.4,2.4M399.9,341.5l2.4,2.4M402.3,341.5l-2.4,2.4M382.3,346.3l2.4,2.4M384.7,346.3l-2.4,2.4M381.6,335.6l2.4,2.4M384.0,335.6l-2.4,2.4M551.5,341.4l2.4,2.4M553.9,341.4l-2.4,2.4M483.7,346.3l2.4,2.4M486.1,346.3l-2.4,2.4M375.6,346.1l2.4,2.4M378.0,346.1l-2.4,2.4M411.0,342.6l2.4,2.4M413.4,342.6l-2.4,2.4M527.8,345.9l2.4,2.4M530.2,345.9l-2.4,2.4M488.5,341.2l2.4,2.4M490.9,341.2l-2.4,2.4M418.1,346.7l2.4,2.4M420.5,346.7l-2.4,2.4M557.6,343.6l2.4,2.4M560.0,343.6l-2.4,2.4M408.6,341.8l2.4,2.4M411.0,341.8l-2.4,2.4M377.7,346.3l2.4,2.4M380.1,346.3l-2.4,2.4M439.1,343.0l2.4,2.4M441.5,343.0l-2.4,2.4M528.7,344.1l2.4,2.4M531.1,344.1l-2.4,2.4M455.4,346.7l2.4,2.4M457.8,346.7l-2.4,2.4M441.3,342.0l2.4,2.4M443.7,342.0l-2.4,2.4M416.4,339.5l2.4,2.4M418.8,339.5l-2.4,2.4M551.4,346.6l2.4,2.4M553.8,346.6l-2.4,2.4M383.6,337.0l2.4,2.4M386.0,337.0l-2.4,2.4M398.5,342.9l2.4,2.4M400.9,342.9l-2.4,2.4M506.3,345.2l2.4,2.4M508.7,345.2l-2.4,2.4M489.1,343.8l2.4,2.4M491.5,343.8l-2.4,2.4M416.4,344.1l2.4,2.4M418.8,344.1l-2.4,2.4M520.2,344.1l2.4,2.4M522.6,344.1l-2.4,2.4M440.6,339.5l2.4,2.4M443.0,339.5l-2.4,2.4M488.8,337.7l2.4,2.4M491.2,337.7l-2.4,2.4M414.2,340.1l2.4,2.4M416.6,340.1l-2.4,2.4M427.9,339.8l2.4,2.4M430.3,339.8l-2.4,2.4M411.2,345.3l2.4,2.4M413.6,345.3l-2.4,2.4M436.3,337.8l2.4,2.4M438.7,337.8l-2.4,2.4M475.7,344.0l2.4,2.4M478.1,344.0l-2.4,2.4M399.5,342.1l2.4,2.4M401.9,342.1l-2.4,2.4M412.5,340.0l2.4,2.4M414.9,340.0l-2.4,2.4M507.7,344.4l2.4,2.4M510.1,344.4l-2.4,2.4M535.5,345.8l2.4,2.4M537.9,345.8l-2.4,2.4M445.9,345.8l2.4,2.4M448.3,345.8l-2.4,2.4M410.3,346.0l2.4,2.4M412.7,346.0l-2.4,2.4M414.0,344.5l2.4,2.4M416.4,344.5l-2.4,2.4M398.1,342.2l2.4,2.4M400.5,342.2l-2.4,2.4M377.4,346.0l2.4,2.4M379.8,346.0l-2.4,2.4M483.4,342.0l2.4,2.4M485.8,342.0l-2.4,2.4M542.3,346.5l2.4,2.4M544.7,346.5l-2.4,2.4M450.6,342.1l2.4,2.4M453.0,342.1l-2.4,2.4M435.7,344.9l2.4,2.4M438.1,344.9l-2.4,2.4M537.2,345.8l2.4,2.4M539.6,345.8l-2.4,2.4M491.7,344.9l2.4,2.4M494.1,344.9l-2.4,2.4M370.8,333.6l2.4,2.4M373.2,333.6l-2.4,2.4M500.3,345.9l2.4,2.4M502.7,345.9l-2.4,2.4M457.7,346.5l2.4,2.4M460.1,346.5l-2.4,2.4M426.0,345.2l2.4,2.4M428.4,345.2l-2.4,2.4M507.3,346.7l2.4,2.4M509.7,346.7l-2.4,2.4M507.3,344.8l2.4,2.4M509.7,344.8l-2.4,2.4M432.4,340.4l2.4,2.4M434.8,340.4l-2.4,2.4M539.1,344.0l2.4,2.4M541.5,344.0l-2.4,2.4M531.9,343.9l2.4,2.4M534.3,343.9l-2.4,2.4M485.5,343.1l2.4,2.4M487.9,343.1l-2.4,2.4M379.6,343.4l2.4,2.4M382.0,343.4l-2.4,2.4M557.1,342.3l2.4,2.4M559.5,342.3l-2.4,2.4M506.9,342.6l2.4,2.4M509.3,342.6l-2.4,2.4M449.6,345.9l2.4,2.4M452.0,345.9l-2.4,2.4M369.8,345.4l2.4,2.4M372.2,345.4l-2.4,2.4M457.5,346.0l2.4,2.4M459.9,346.0l-2.4,2.4M483.5,341.0l2.4,2.4M485.9,341.0l-2.4,2.4M413.7,343.6l2.4,2.4M416.1,343.6l-2.4,2.4M403.4,346.5l2.4,2.4M405.8,346.5l-2.4,2.4M540.1,344.5l2.4,2.4M542.5,344.5l-2.4,2.4M427.6,343.3l2.4,2.4M430.0,343.3l-2.4,2.4M402.6,340.6l2.4,2.4M405.0,340.6l-2.4,2.4M535.1,343.9l2.4,2.4M537.5,343.9l-2.4,2.4M477.4,345.9l2.4,2.4M479.8,345.9l-2.4,2.4M526.7,344.9l2.4,2.4M529.1,344.9l-2.4,2.4M502.3,343.9l2.4,2.4M504.7,343.9l-2.4,2.4M451.6,345.8l2.4,2.4M454.0,345.8l-2.4,2.4M405.6,342.2l2.4,2.4M408.0,342.2l-2.4,2.4M425.3,344.0l2.4,2.4M427.7,344.0l-2.4,2.4M554.9,337.0l2.4,2.4M557.3,337.0l-2.4,2.4M372.1,346.2l2.4,2.4M374.5,346.2l-2.4,2.4M474.9,340.6l2.4,2.4M477.3,340.6l-2.4,2.4M452.4,332.6l2.4,2.4M454.8,332.6l-2.4,2.4M410.2,345.9l2.4,2.4M412.6,345.9l-2.4,2.4M450.8,345.8l2.4,2.4M453.2,345.8l-2.4,2.4M491.3,343.4l2.4,2.4M493.7,343.4l-2.4,2.4M402.8,338.0l2.4,2.4M405.2,338.0l-2.4,2.4M398.7,342.5l2.4,2.4M401.1,342.5l-2.4,2.4M398.8,346.4l2.4,2.4M401.2,346.4l-2.4,2.4M431.2,345.2l2.4,2.4M433.6,345.2l-2.4,2.4M511.0,342.4l2.4,2.4M513.4,342.4l-2.4,2.4M518.0,345.4l2.4,2.4M520.4,345.4l-2.4,2.4M504.4,345.8l2.4,2.4M506.8,345.8l-2.4,2.4M452.2,341.0l2.4,2.4M454.6,341.0l-2.4,2.4M474.6,340.9l2.4,2.4M477.0,340.9l-2.4,2.4M518.9,342.8l2.4,2.4M521.3,342.8l-2.4,2.4M403.8,345.3l2.4,2.4M406.2,345.3l-2.4,2.4M523.1,343.0l2.4,2.4M525.5,343.0l-2.4,2.4M539.0,342.1l2.4,2.4M541.4,342.1l-2.4,2.4M554.0,340.3l2.4,2.4M556.4,340.3l-2.4,2.4M540.9,345.2l2.4,2.4M543.3,345.2l-2.4,2.4M431.7,343.2l2.4,2.4M434.1,343.2l-2.4,2.4M513.3,344.7l2.4,2.4M515.7,344.7l-2.4,2.4M369.5,346.2l2.4,2.4M371.9,346.2l-2.4,2.4M397.6,345.4l2.4,2.4M400.0,345.4l-2.4,2.4M517.2,345.3l2.4,2.4M519.6,345.3l-2.4,2.4M504.7,345.1l2.4,2.4M507.1,345.1l-2.4,2.4M498.0,342.6l2.4,2.4M500.4,342.6l-2.4,2.4M380.7,345.2l2.4,2.4M383.1,345.2l-2.4,2.4M466.4,345.2l2.4,2.4M468.8,345.2l-2.4,2.4M465.6,340.9l2.4,2.4M468.0,340.9l-2.4,2.4M472.9,345.3l2.4,2.4M475.3,345.3l-2.4,2.4M539.1,343.3l2.4,2.4M541.5,343.3l-2.4,2.4M529.4,342.3l2.4,2.4M531.8,342.3l-2.4,2.4M403.1,345.8l2.4,2.4M405.5,345.8l-2.4,2.4M461.8,346.0l2.4,2.4M464.2,346.0l-2.4,2.4M464.3,346.1l2.4,2.4M466.7,346.1l-2.4,2.4M519.7,342.7l2.4,2.4M522.1,342.7l-2.4,2.4M376.8,345.0l2.4,2.4M379.2,345.0l-2.4,2.4M444.4,338.6l2.4,2.4M446.8,338.6l-2.4,2.4M456.0,344.4l2.4,2.4M458.4,344.4l-2.4,2.4M448.3,343.5l2.4,2.4M450.7,343.5l-2.4,2.4M425.7,339.4l2.4,2.4M428.1,339.4l-2.4,2.4M484.1,344.9l2.4,2.4M486.5,344.9l-2.4,2.4M368.4,345.8l2.4,2.4M370.8,345.8l-2.4,2.4M408.2,345.4l2.4,2.4M410.6,345.4l-2.4,2.4M484.5,336.3l2.4,2.4M486.9,336.3l-2.4,2.4M387.9,343.9l2.4,2.4M390.3,343.9l-2.4,2.4M467.1,346.5l2.4,2.4M469.5,346.5l-2.4,2.4M437.0,342.8l2.4,2.4M439.4,342.8l-2.4,2.4M403.7,344.3l2.4,2.4M406.1,344.3l-2.4,2.4M488.1,339.6l2.4,2.4M490.5,339.6l-2.4,2.4M530.6,345.3l2.4,2.4M533.0,345.3l-2.4,2.4M508.0,343.7l2.4,2.4M510.4,343.7l-2.4,2.4M425.2,339.3l2.4,2.4M427.6,339.3l-2.4,2.4M406.4,339.0l2.4,2.4M408.8,339.0l-2.4,2.4M410.5,346.6l2.4,2.4M412.9,346.6l-2.4,2.4M414.4,341.0l2.4,2.4M416.8,341.0l-2.4,2.4M517.6,342.7l2.4,2.4M520.0,342.7l-2.4,2.4M442.3,346.4l2.4,2.4M444.7,346.4l-2.4,2.4M496.7,346.0l2.4,2.4M499.1,346.0l-2.4,2.4M552.3,343.4l2.4,2.4M554.7,343.4l-2.4,2.4M461.7,343.8l2.4,2.4M464.1,343.8l-2.4,2.4M400.7,338.8l2.4,2.4M403.1,338.8l-2.4,2.4M464.1,345.9l2.4,2.4M466.5,345.9l-2.4,2.4M392.5,345.7l2.4,2.4M394.9,345.7l-2.4,2.4M556.5,344.4l2.4,2.4M558.9,344.4l-2.4,2.4M382.5,338.3l2.4,2.4M384.9,338.3l-2.4,2.4M512.7,343.2l2.4,2.4M515.1,343.2l-2.4,2.4M454.8,342.8l2.4,2.4M457.2,342.8l-2.4,2.4M366.6,346.3l2.4,2.4M369.0,346.3l-2.4,2.4M528.1,345.0l2.4,2.4M530.5,345.0l-2.4,2.4M442.8,343.0l2.4,2.4M445.2,343.0l-2.4,2.4M396.1,346.0l2.4,2.4M398.5,346.0l-2.4,2.4M519.9,346.6l2.4,2.4M522.3,346.6l-2.4,2.4M531.3,344.1l2.4,2.4M533.7,344.1l-2.4,2.4M462.0,343.9l2.4,2.4M464.4,343.9l-2.4,2.4M520.5,346.3l2.4,2.4M522.9,346.3l-2.4,2.4M515.2,338.6l2.4,2.4M517.6,338.6l-2.4,2.4M442.9,340.6l2.4,2.4M445.3,340.6l-2.4,2.4M513.2,342.1l2.4,2.4M515.6,342.1l-2.4,2.4M442.9,346.4l2.4,2.4M445.3,346.4l-2.4,2.4M455.1,340.2l2.4,2.4M457.5,340.2l-2.4,2.4M488.2,344.8l2.4,2.4M490.6,344.8l-2.4,2.4M493.5,344.8l2.4,2.4M495.9,344.8l-2.4,2.4M492.3,342.6l2.4,2.4M494.7,342.6l-2.4,2.4M558.4,344.7l2.4,2.4M560.8,344.7l-2.4,2.4M500.3,339.2l2.4,2.4M502.7,339.2l-2.4,2.4M507.6,336.4l2.4,2.4M510.0,336.4l-2.4,2.4M442.1,344.4l2.4,2.4M444.5,344.4l-2.4,2.4M383.1,345.9l2.4,2.4M385.5,345.9l-2.4,2.4M540.1,342.5l2.4,2.4M542.5,342.5l-2.4,2.4M474.4,345.3l2.4,2.4M476.8,345.3l-2.4,2.4M488.0,346.1l2.4,2.4M490.4,346.1l-2.4,2.4M511.6,336.6l2.4,2.4M514.0,336.6l-2.4,2.4M395.1,344.5l2.4,2.4M397.5,344.5l-2.4,2.4M482.8,337.5l2.4,2.4M485.2,337.5l-2.4,2.4M445.8,341.8l2.4,2.4M448.2,341.8l-2.4,2.4M419.5,345.8l2.4,2.4M421.9,345.8l-2.4,2.4M473.0,345.4l2.4,2.4M475.4,345.4l-2.4,2.4M366.7,341.0l2.4,2.4M369.1,341.0l-2.4,2.4M372.3,343.3l2.4,2.4M374.7,343.3l-2.4,2.4M538.5,341.5l2.4,2.4M540.9,341.5l-2.4,2.4M373.8,329.3l2.4,2.4M376.2,329.3l-2.4,2.4M447.5,346.0l2.4,2.4M449.9,346.0l-2.4,2.4M553.2,346.5l2.4,2.4M555.6,346.5l-2.4,2.4M504.5,342.2l2.4,2.4M506.9,342.2l-2.4,2.4M554.3,337.9l2.4,2.4M556.7,337.9l-2.4,2.4M452.6,342.1l2.4,2.4M455.0,342.1l-2.4,2.4M374.1,344.8l2.4,2.4M376.5,344.8l-2.4,2.4M493.8,346.3l2.4,2.4M496.2,346.3l-2.4,2.4M415.0,343.3l2.4,2.4M417.4,343.3l-2.4,2.4M467.2,344.8l2.4,2.4M469.6,344.8l-2.4,2.4M549.2,338.0l2.4,2.4M551.6,338.0l-2.4,2.4M516.5,344.0l2.4,2.4M518.9,344.0l-2.4,2.4M433.8,345.9l2.4,2.4M436.2,345.9l-2.4,2.4M479.0,341.1l2.4,2.4M481.4,341.1l-2.4,2.4M510.5,345.6l2.4,2.4M512.9,345.6l-2.4,2.4M542.0,344.1l2.4,2.4M544.4,344.1l-2.4,2.4M371.7,344.0l2.4,2.4M374.1,344.0l-2.4,2.4M485.2,339.4l2.4,2.4M487.6,339.4l-2.4,2.4M378.1,341.9l2.4,2.4M380.5,341.9l-2.4,2.4M486.7,343.8l2.4,2.4M489.1,343.8l-2.4,2.4M457.0,345.8l2.4,2.4M459.4,345.8l-2.4,2.4M527.0,339.8l2.4,2.4M529.4,339.8l-2.4,2.4M521.3,342.2l2.4,2.4M523.7,342.2l-2.4,2.4M446.5,342.3l2.4,2.4M448.9,342.3l-2.4,2.4M521.4,343.0l2.4,2.4M523.8,343.0l-2.4,2.4M427.3,342.7l2.4,2.4M429.7,342.7l-2.4,2.4M509.0,343.3l2.4,2.4M511.4,343.3l-2.4,2.4M382.9,344.8l2.4,2.4M385.3,344.8l-2.4,2.4M379.3,342.6l2.4,2.4M381.7,342.6l-2.4,2.4M497.2,344.3l2.4,2.4M499.6,344.3l-2.4,2.4M514.8,344.4l2.4,2.4M517.2,344.4l-2.4,2.4M379.9,345.5l2.4,2.4M382.3,345.5l-2.4,2.4M504.9,345.6l2.4,2.4M507.3,345.6l-2.4,2.4M433.6,343.9l2.4,2.4M436.0,343.9l-2.4,2.4M435.2,342.4l2.4,2.4M437.6,342.4l-2.4,2.4M542.6,342.8l2.4,2.4M545.0,342.8l-2.4,2.4M541.6,340.5l2.4,2.4M544.0,340.5l-2.4,2.4M425.7,344.2l2.4,2.4M428.1,344.2l-2.4,2.4M545.7,344.5l2.4,2.4M548.1,344.5l-2.4,2.4M435.1,345.0l2.4,2.4M437.5,345.0l-2.4,2.4M440.9,344.8l2.4,2.4M443.3,344.8l-2.4,2.4M519.0,345.1l2.4,2.4M521.4,345.1l-2.4,2.4M526.6,344.6l2.4,2.4M529.0,344.6l-2.4,2.4M535.2,345.8l2.4,2.4M537.6,345.8l-2.4,2.4M368.3,342.1l2.4,2.4M370.7,342.1l-2.4,2.4M551.9,346.2l2.4,2.4M554.3,346.2l-2.4,2.4M520.4,342.4l2.4,2.4M522.8,342.4l-2.4,2.4M380.3,337.4l2.4,2.4M382.7,337.4l-2.4,2.4M538.8,342.2l2.4,2.4M541.2,342.2l-2.4,2.4M509.0,344.0l2.4,2.4M511.4,344.0l-2.4,2.4M411.7,345.5l2.4,2.4M414.1,345.5l-2.4,2.4M512.7,340.5l2.4,2.4M515.1,340.5l-2.4,2.4M429.7,341.3l2.4,2.4M432.1,341.3l-2.4,2.4M468.5,345.6l2.4,2.4M470.9,345.6l-2.4,2.4M501.7,343.4l2.4,2.4M504.1,343.4l-2.4,2.4M493.6,344.7l2.4,2.4M496.0,344.7l-2.4,2.4M520.7,342.8l2.4,2.4M523.1,342.8l-2.4,2.4M488.5,340.0l2.4,2.4M490.9,340.0l-2.4,2.4M502.0,345.4l2.4,2.4M504.4,345.4l-2.4,2.4M392.4,343.0l2.4,2.4M394.8,343.0l-2.4,2.4M556.7,345.1l2.4,2.4M559.1,345.1l-2.4,2.4M446.6,345.1l2.4,2.4M449.0,345.1l-2.4,2.4M552.5,336.8l2.4,2.4M554.9,336.8l-2.4,2.4M514.8,345.5l2.4,2.4M517.2,345.5l-2.4,2.4M376.1,342.0l2.4,2.4M378.5,342.0l-2.4,2.4M371.1,341.5l2.4,2.4M373.5,341.5l-2.4,2.4M406.3,346.1l2.4,2.4M408.7,346.1l-2.4,2.4M407.5,340.8l2.4,2.4M409.9,340.8l-2.4,2.4M418.6,343.8l2.4,2.4M421.0,343.8l-2.4,2.4M470.6,341.2l2.4,2.4M473.0,341.2l-2.4,2.4M457.2,346.2l2.4,2.4M459.6,346.2l-2.4,2.4M430.5,339.0l2.4,2.4M432.9,339.0l-2.4,2.4M550.0,335.3l2.4,2.4M552.4,335.3l-2.4,2.4M519.8,346.4l2.4,2.4M522.2,346.4l-2.4,2.4M466.6,343.7l2.4,2.4M469.0,343.7l-2.4,2.4M491.8,346.4l2.4,2.4M494.2,346.4l-2.4,2.4M366.1,343.2l2.4,2.4M368.5,343.2l-2.4,2.4M502.7,346.1l2.4,2.4M505.1,346.1l-2.4,2.4M394.6,344.9l2.4,2.4M397.0,344.9l-2.4,2.4M533.0,344.0l2.4,2.4M535.4,344.0l-2.4,2.4M487.8,343.8l2.4,2.4M490.2,343.8l-2.4,2.4M393.3,346.5l2.4,2.4M395.7,346.5l-2.4,2.4M364.3,343.6l2.4,2.4M366.7,343.6l-2.4,2.4M380.0,340.3l2.4,2.4M382.4,340.3l-2.4,2.4M503.3,343.2l2.4,2.4M505.7,343.2l-2.4,2.4M549.7,344.3l2.4,2.4M552.1,344.3l-2.4,2.4M530.7,344.5l2.4,2.4M533.1,344.5l-2.4,2.4M542.2,332.5l2.4,2.4M544.6,332.5l-2.4,2.4M404.5,342.3l2.4,2.4M406.9,342.3l-2.4,2.4M525.7,345.5l2.4,2.4M528.1,345.5l-2.4,2.4M424.4,343.9l2.4,2.4M426.8,343.9l-2.4,2.4M503.0,345.2l2.4,2.4M505.4,345.2l-2.4,2.4M497.6,343.8l2.4,2.4M500.0,343.8l-2.4,2.4M552.0,344.4l2.4,2.4M554.4,344.4l-2.4,2.4M491.1,343.1l2.4,2.4M493.5,343.1l-2.4,2.4M410.2,346.4l2.4,2.4M412.6,346.4l-2.4,2.4M453.1,335.3l2.4,2.4M455.5,335.3l-2.4,2.4M404.2,345.9l2.4,2.4M406.6,345.9l-2.4,2.4M420.5,343.4l2.4,2.4M422.9,343.4l-2.4,2.4M429.6,343.4l2.4,2.4M432.0,343.4l-2.4,2.4M493.6,346.6l2.4,2.4M496.0,346.6l-2.4,2.4M428.0,344.2l2.4,2.4M430.4,344.2l-2.4,2.4M473.4,346.1l2.4,2.4M475.8,346.1l-2.4,2.4M381.9,343.4l2.4,2.4M384.3,343.4l-2.4,2.4M382.4,344.1l2.4,2.4M384.8,344.1l-2.4,2.4M442.2,341.5l2.4,2.4M444.6,341.5l-2.4,2.4M479.2,344.4l2.4,2.4M481.6,344.4l-2.4,2.4M388.1,345.3l2.4,2.4M390.5,345.3l-2.4,2.4M378.1,343.3l2.4,2.4M380.5,343.3l-2.4,2.4M489.8,344.8l2.4,2.4M492.2,344.8l-2.4,2.4M523.6,344.2l2.4,2.4M526.0,344.2l-2.4,2.4M367.0,344.5l2.4,2.4M369.4,344.5l-2.4,2.4M500.1,340.2l2.4,2.4M502.5,340.2l-2.4,2.4M482.3,341.0l2.4,2.4M484.7,341.0l-2.4,2.4M430.5,345.7l2.4,2.4M432.9,345.7l-2.4,2.4M463.0,345.3l2.4,2.4M465.4,345.3l-2.4,2.4M524.4,345.0l2.4,2.4M526.8,345.0l-2.4,2.4M539.5,345.3l2.4,2.4M541.9,345.3l-2.4,2.4" stroke="#d83838" stroke-width="0.75" fill="none"/>
<g fill="#2a3a9a"><circle cx="433.7" cy="345.8" r="0.95"/><circle cx="557.0" cy="347.9" r="0.95"/><circle cx="504.3" cy="346.6" r="0.95"/><circle cx="487.1" cy="345.8" r="0.95"/><circle cx="381.4" cy="347.7" r="0.95"/><circle cx="429.2" cy="343.0" r="0.95"/><circle cx="435.4" cy="346.0" r="0.95"/><circle cx="391.6" cy="347.4" r="0.95"/><circle cx="470.8" cy="343.5" r="0.95"/><circle cx="542.0" cy="346.1" r="0.95"/><circle cx="524.1" cy="346.4" r="0.95"/><circle cx="421.3" cy="346.7" r="0.95"/><circle cx="412.0" cy="341.7" r="0.95"/><circle cx="471.7" cy="341.8" r="0.95"/><circle cx="400.2" cy="339.2" r="0.95"/><circle cx="425.0" cy="347.2" r="0.95"/><circle cx="508.6" cy="344.2" r="0.95"/><circle cx="368.4" cy="344.5" r="0.95"/><circle cx="456.2" cy="345.6" r="0.95"/><circle cx="399.0" cy="345.0" r="0.95"/><circle cx="416.5" cy="344.9" r="0.95"/><circle cx="372.6" cy="346.5" r="0.95"/><circle cx="393.3" cy="343.0" r="0.95"/><circle cx="445.2" cy="346.6" r="0.95"/><circle cx="499.2" cy="347.6" r="0.95"/><circle cx="558.6" cy="341.7" r="0.95"/><circle cx="531.4" cy="344.6" r="0.95"/><circle cx="541.2" cy="345.7" r="0.95"/><circle cx="467.3" cy="340.6" r="0.95"/><circle cx="375.8" cy="344.6" r="0.95"/><circle cx="540.2" cy="347.3" r="0.95"/><circle cx="424.4" cy="342.9" r="0.95"/><circle cx="378.8" cy="345.0" r="0.95"/><circle cx="442.3" cy="337.9" r="0.95"/><circle cx="467.5" cy="347.7" r="0.95"/><circle cx="411.1" cy="336.2" r="0.95"/><circle cx="553.1" cy="344.1" r="0.95"/><circle cx="521.7" cy="341.5" r="0.95"/><circle cx="510.3" cy="332.8" r="0.95"/><circle cx="389.3" cy="344.6" r="0.95"/><circle cx="550.1" cy="345.1" r="0.95"/><circle cx="428.3" cy="339.4" r="0.95"/><circle cx="523.7" cy="345.1" r="0.95"/><circle cx="374.1" cy="337.3" r="0.95"/><circle cx="425.0" cy="339.3" r="0.95"/><circle cx="457.1" cy="347.8" r="0.95"/><circle cx="422.6" cy="340.9" r="0.95"/><circle cx="528.1" cy="344.2" r="0.95"/><circle cx="457.1" cy="344.3" r="0.95"/><circle cx="404.5" cy="341.2" r="0.95"/><circle cx="402.4" cy="339.6" r="0.95"/><circle cx="426.0" cy="347.1" r="0.95"/><circle cx="534.2" cy="347.4" r="0.95"/><circle cx="547.5" cy="345.9" r="0.95"/><circle cx="380.6" cy="347.3" r="0.95"/><circle cx="403.4" cy="344.8" r="0.95"/><circle cx="411.0" cy="344.5" r="0.95"/><circle cx="493.9" cy="342.3" r="0.95"/><circle cx="479.9" cy="347.5" r="0.95"/><circle cx="494.9" cy="344.8" r="0.95"/><circle cx="489.6" cy="339.0" r="0.95"/><circle cx="467.9" cy="342.2" r="0.95"/><circle cx="374.0" cy="345.4" r="0.95"/><circle cx="521.3" cy="341.5" r="0.95"/><circle cx="512.1" cy="347.8" r="0.95"/><circle cx="401.4" cy="344.9" r="0.95"/><circle cx="557.2" cy="343.9" r="0.95"/><circle cx="440.0" cy="347.0" r="0.95"/><circle cx="462.4" cy="345.9" r="0.95"/><circle cx="435.1" cy="343.6" r="0.95"/><circle cx="517.4" cy="343.5" r="0.95"/><circle cx="498.2" cy="347.4" r="0.95"/><circle cx="550.2" cy="344.9" r="0.95"/><circle cx="483.4" cy="342.2" r="0.95"/><circle cx="450.8" cy="346.9" r="0.95"/><circle cx="411.1" cy="341.5" r="0.95"/><circle cx="408.2" cy="337.5" r="0.95"/><circle cx="504.1" cy="345.8" r="0.95"/><circle cx="534.9" cy="341.0" r="0.95"/><circle cx="449.7" cy="346.0" r="0.95"/><circle cx="416.3" cy="347.4" r="0.95"/><circle cx="475.8" cy="346.5" r="0.95"/><circle cx="519.1" cy="347.7" r="0.95"/><circle cx="373.4" cy="345.8" r="0.95"/><circle cx="486.0" cy="345.0" r="0.95"/><circle cx="382.4" cy="347.4" r="0.95"/><circle cx="398.6" cy="347.8" r="0.95"/><circle cx="526.7" cy="345.7" r="0.95"/><circle cx="377.1" cy="344.9" r="0.95"/><circle cx="553.9" cy="340.1" r="0.95"/><circle cx="513.2" cy="345.8" r="0.95"/><circle cx="510.0" cy="343.4" r="0.95"/><circle cx="538.2" cy="345.6" r="0.95"/><circle cx="447.7" cy="342.0" r="0.95"/><circle cx="558.8" cy="347.4" r="0.95"/><circle cx="414.4" cy="341.9" r="0.95"/><circle cx="412.2" cy="339.6" r="0.95"/><circle cx="430.7" cy="345.8" r="0.95"/><circle cx="484.0" cy="344.2" r="0.95"/><circle cx="376.6" cy="346.9" r="0.95"/><circle cx="500.2" cy="344.6" r="0.95"/><circle cx="455.1" cy="344.2" r="0.95"/><circle cx="529.1" cy="343.2" r="0.95"/><circle cx="432.7" cy="343.5" r="0.95"/><circle cx="472.0" cy="346.6" r="0.95"/><circle cx="456.1" cy="345.7" r="0.95"/><circle cx="452.1" cy="342.3" r="0.95"/><circle cx="405.0" cy="347.6" r="0.95"/><circle cx="379.3" cy="346.6" r="0.95"/><circle cx="368.8" cy="344.6" r="0.95"/><circle cx="416.2" cy="341.3" r="0.95"/><circle cx="417.4" cy="342.7" r="0.95"/><circle cx="395.0" cy="344.7" r="0.95"/><circle cx="505.8" cy="346.5" r="0.95"/><circle cx="369.2" cy="337.9" r="0.95"/><circle cx="428.4" cy="344.6" r="0.95"/><circle cx="466.2" cy="344.4" r="0.95"/><circle cx="373.1" cy="346.6" r="0.95"/><circle cx="480.9" cy="344.7" r="0.95"/><circle cx="471.0" cy="347.2" r="0.95"/><circle cx="502.6" cy="347.5" r="0.95"/><circle cx="393.8" cy="342.0" r="0.95"/><circle cx="419.7" cy="347.0" r="0.95"/><circle cx="533.5" cy="344.2" r="0.95"/><circle cx="422.0" cy="343.5" r="0.95"/><circle cx="487.7" cy="345.7" r="0.95"/><circle cx="522.4" cy="344.8" r="0.95"/><circle cx="543.9" cy="347.4" r="0.95"/><circle cx="499.2" cy="343.3" r="0.95"/><circle cx="410.8" cy="339.9" r="0.95"/><circle cx="382.7" cy="339.3" r="0.95"/><circle cx="429.0" cy="346.3" r="0.95"/><circle cx="419.6" cy="345.8" r="0.95"/><circle cx="397.6" cy="344.7" r="0.95"/><circle cx="411.8" cy="345.1" r="0.95"/><circle cx="394.5" cy="346.0" r="0.95"/><circle cx="501.5" cy="337.2" r="0.95"/><circle cx="436.0" cy="340.6" r="0.95"/><circle cx="375.8" cy="343.0" r="0.95"/><circle cx="428.5" cy="347.7" r="0.95"/><circle cx="369.8" cy="343.4" r="0.95"/><circle cx="416.1" cy="341.5" r="0.95"/><circle cx="401.4" cy="342.9" r="0.95"/><circle cx="435.7" cy="346.9" r="0.95"/><circle cx="548.4" cy="347.2" r="0.95"/><circle cx="445.1" cy="342.7" r="0.95"/><circle cx="418.9" cy="344.2" r="0.95"/><circle cx="542.0" cy="337.6" r="0.95"/><circle cx="463.8" cy="346.6" r="0.95"/><circle cx="394.3" cy="344.6" r="0.95"/><circle cx="409.6" cy="340.5" r="0.95"/><circle cx="441.8" cy="345.4" r="0.95"/><circle cx="461.2" cy="345.1" r="0.95"/><circle cx="474.2" cy="344.1" r="0.95"/><circle cx="553.5" cy="346.2" r="0.95"/><circle cx="426.1" cy="344.9" r="0.95"/><circle cx="500.4" cy="344.2" r="0.95"/><circle cx="396.2" cy="339.1" r="0.95"/><circle cx="460.6" cy="344.6" r="0.95"/><circle cx="510.8" cy="346.5" r="0.95"/><circle cx="411.3" cy="347.9" r="0.95"/><circle cx="465.1" cy="344.6" r="0.95"/><circle cx="377.5" cy="346.3" r="0.95"/><circle cx="387.1" cy="347.2" r="0.95"/><circle cx="515.3" cy="345.7" r="0.95"/><circle cx="534.3" cy="343.2" r="0.95"/><circle cx="463.8" cy="346.8" r="0.95"/><circle cx="414.2" cy="344.4" r="0.95"/><circle cx="428.7" cy="344.7" r="0.95"/><circle cx="526.3" cy="342.5" r="0.95"/><circle cx="447.0" cy="346.5" r="0.95"/><circle cx="521.0" cy="342.9" r="0.95"/><circle cx="438.5" cy="346.6" r="0.95"/><circle cx="367.9" cy="345.5" r="0.95"/><circle cx="548.1" cy="345.9" r="0.95"/><circle cx="446.7" cy="347.5" r="0.95"/><circle cx="442.3" cy="330.5" r="0.95"/><circle cx="388.2" cy="338.8" r="0.95"/><circle cx="507.4" cy="346.0" r="0.95"/><circle cx="370.4" cy="347.8" r="0.95"/><circle cx="459.1" cy="345.7" r="0.95"/><circle cx="528.2" cy="345.6" r="0.95"/><circle cx="441.3" cy="343.2" r="0.95"/><circle cx="440.9" cy="343.6" r="0.95"/><circle cx="471.3" cy="347.2" r="0.95"/><circle cx="386.0" cy="345.9" r="0.95"/><circle cx="414.1" cy="346.0" r="0.95"/><circle cx="368.9" cy="347.7" r="0.95"/><circle cx="393.1" cy="345.8" r="0.95"/><circle cx="458.9" cy="345.8" r="0.95"/></g>
</svg></body></html>
